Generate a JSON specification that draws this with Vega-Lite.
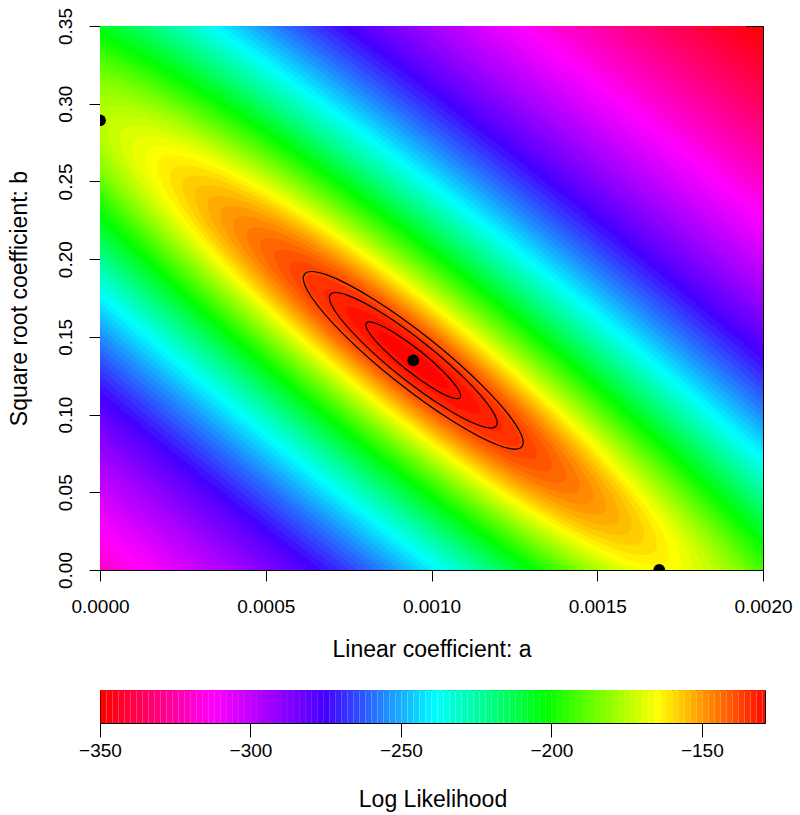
{
"$schema":"https://vega.github.io/schema/vega-lite/v6.json",
"padding":{"left":7,"top":7,"right":5,"bottom":5},
"background":"white",
"bounds":"flush",
"spacing":120,
"config":{
"font":"Liberation Sans",
"view":{"stroke":"#000000","strokeWidth":1},
"style":{"guide-label":{"font":"Liberation Sans","fontSize":19,"fill":"#000000"},"guide-title":{"font":"Liberation Sans","fontSize":23,"fontWeight":"normal","fill":"#000000"}},
"axis":{"labelFont":"Liberation Sans","titleFont":"Liberation Sans","labelFontSize":19,"titleFontSize":23,"titleFontWeight":"normal","labelColor":"#000000","titleColor":"#000000","tickColor":"#000000","grid":false,"domain":false,"tickSize":11,"tickWidth":1,"labelFlush":false,"labelOverlap":false}
},
"datasets":{
"fill":[
{"k":"00","i":0,"ll":-346.25,"a":0.007535,"b":-0.9752},{"k":"00","i":1,"ll":-346.25,"a":0.00709,"b":-0.7081},{"k":"00","i":2,"ll":-346.25,"a":0.004998,"b":-0.2152},{"k":"00","i":3,"ll":-346.25,"a":0.001821,"b":0.3714},{"k":"00","i":4,"ll":-346.25,"a":-0.001592,"b":0.8948},{"k":"00","i":5,"ll":-346.25,"a":-0.004326,"b":1.2143},{"k":"00","i":6,"ll":-346.25,"a":-0.005645,"b":1.245},{"k":"00","i":7,"ll":-346.25,"a":-0.0052,"b":0.9839},{"k":"00","i":8,"ll":-346.25,"a":-0.003108,"b":0.485},{"k":"00","i":9,"ll":-346.25,"a":0.000069,"b":-0.1016},{"k":"00","i":10,"ll":-346.25,"a":0.003482,"b":-0.625},{"k":"00","i":11,"ll":-346.25,"a":0.006216,"b":-0.9445},
{"k":"01","i":0,"ll":-343.75,"a":0.007371,"b":-0.9475},{"k":"01","i":1,"ll":-343.75,"a":0.006936,"b":-0.687},{"k":"01","i":2,"ll":-343.75,"a":0.004897,"b":-0.2065},{"k":"01","i":3,"ll":-343.75,"a":0.001799,"b":0.3655},{"k":"01","i":4,"ll":-343.75,"a":-0.001529,"b":0.8758},{"k":"01","i":5,"ll":-343.75,"a":-0.004195,"b":1.1873},{"k":"01","i":6,"ll":-343.75,"a":-0.005481,"b":1.2168},{"k":"01","i":7,"ll":-343.75,"a":-0.005046,"b":0.9568},{"k":"01","i":8,"ll":-343.75,"a":-0.003007,"b":0.4762},{"k":"01","i":9,"ll":-343.75,"a":0.000091,"b":-0.0957},{"k":"01","i":10,"ll":-343.75,"a":0.003399,"b":-0.606},{"k":"01","i":11,"ll":-343.75,"a":0.006085,"b":-0.9174},
{"k":"02","i":0,"ll":-341.25,"a":0.00721,"b":-0.9204},{"k":"02","i":1,"ll":-341.25,"a":0.006786,"b":-0.6664},{"k":"02","i":2,"ll":-341.25,"a":0.004798,"b":-0.1979},{"k":"02","i":3,"ll":-341.25,"a":0.001778,"b":0.3597},{"k":"02","i":4,"ll":-341.25,"a":-0.001467,"b":0.8573},{"k":"02","i":5,"ll":-341.25,"a":-0.004066,"b":1.1609},{"k":"02","i":6,"ll":-341.25,"a":-0.00532,"b":1.1902},{"k":"02","i":7,"ll":-341.25,"a":-0.004896,"b":0.9362},{"k":"02","i":8,"ll":-341.25,"a":-0.002908,"b":0.4677},{"k":"02","i":9,"ll":-341.25,"a":0.000113,"b":-0.0899},{"k":"02","i":10,"ll":-341.25,"a":0.003357,"b":-0.5875},{"k":"02","i":11,"ll":-341.25,"a":0.005956,"b":-0.8911},
{"k":"03","i":0,"ll":-338.75,"a":0.007053,"b":-0.8939},{"k":"03","i":1,"ll":-338.75,"a":0.00664,"b":-0.6463},{"k":"03","i":2,"ll":-338.75,"a":0.004701,"b":-0.1896},{"k":"03","i":3,"ll":-338.75,"a":0.001757,"b":0.3541},{"k":"03","i":4,"ll":-338.75,"a":-0.001406,"b":0.8392},{"k":"03","i":5,"ll":-338.75,"a":-0.00394,"b":1.1352},{"k":"03","i":6,"ll":-338.75,"a":-0.005163,"b":1.1637},{"k":"03","i":7,"ll":-338.75,"a":-0.00475,"b":0.9161},{"k":"03","i":8,"ll":-338.75,"a":-0.002811,"b":0.4594},{"k":"03","i":9,"ll":-338.75,"a":0.000133,"b":-0.0843},{"k":"03","i":10,"ll":-338.75,"a":0.003296,"b":-0.5694},{"k":"03","i":11,"ll":-338.75,"a":0.00583,"b":-0.8654},
{"k":"04","i":0,"ll":-336.25,"a":0.0069,"b":-0.8681},{"k":"04","i":1,"ll":-336.25,"a":0.006497,"b":-0.6268},{"k":"04","i":2,"ll":-336.25,"a":0.004607,"b":-0.1814},{"k":"04","i":3,"ll":-336.25,"a":0.001736,"b":0.3486},{"k":"04","i":4,"ll":-336.25,"a":-0.001347,"b":0.8215},{"k":"04","i":5,"ll":-336.25,"a":-0.003818,"b":1.1102},{"k":"04","i":6,"ll":-336.25,"a":-0.00501,"b":1.1379},{"k":"04","i":7,"ll":-336.25,"a":-0.004607,"b":0.8966},{"k":"04","i":8,"ll":-336.25,"a":-0.002717,"b":0.4512},{"k":"04","i":9,"ll":-336.25,"a":0.000154,"b":-0.0788},{"k":"04","i":10,"ll":-336.25,"a":0.003237,"b":-0.5517},{"k":"04","i":11,"ll":-336.25,"a":0.005708,"b":-0.8404},
{"k":"05","i":0,"ll":-333.75,"a":0.00675,"b":-0.843},{"k":"05","i":1,"ll":-333.75,"a":0.006358,"b":-0.6077},{"k":"05","i":2,"ll":-333.75,"a":0.004515,"b":-0.1735},{"k":"05","i":3,"ll":-333.75,"a":0.001716,"b":0.3432},{"k":"05","i":4,"ll":-333.75,"a":-0.00129,"b":0.8043},{"k":"05","i":5,"ll":-333.75,"a":-0.003699,"b":1.0857},{"k":"05","i":6,"ll":-333.75,"a":-0.00486,"b":1.1128},{"k":"05","i":7,"ll":-333.75,"a":-0.004468,"b":0.8775},{"k":"05","i":8,"ll":-333.75,"a":-0.002625,"b":0.4433},{"k":"05","i":9,"ll":-333.75,"a":0.000174,"b":-0.0734},{"k":"05","i":10,"ll":-333.75,"a":0.00318,"b":-0.5345},{"k":"05","i":11,"ll":-333.75,"a":0.005589,"b":-0.8159},
{"k":"06","i":0,"ll":-331.25,"a":0.006605,"b":-0.8184},{"k":"06","i":1,"ll":-331.25,"a":0.006222,"b":-0.589},{"k":"06","i":2,"ll":-331.25,"a":0.004426,"b":-0.1658},{"k":"06","i":3,"ll":-331.25,"a":0.001697,"b":0.338},{"k":"06","i":4,"ll":-331.25,"a":-0.001234,"b":0.7875},{"k":"06","i":5,"ll":-331.25,"a":-0.003582,"b":1.0618},{"k":"06","i":6,"ll":-331.25,"a":-0.004715,"b":1.0882},{"k":"06","i":7,"ll":-331.25,"a":-0.004332,"b":0.8588},{"k":"06","i":8,"ll":-331.25,"a":-0.002536,"b":0.4356},{"k":"06","i":9,"ll":-331.25,"a":0.000193,"b":-0.0682},{"k":"06","i":10,"ll":-331.25,"a":0.003124,"b":-0.5177},{"k":"06","i":11,"ll":-331.25,"a":0.005472,"b":-0.792},
{"k":"07","i":0,"ll":-328.75,"a":0.006462,"b":-0.7945},{"k":"07","i":1,"ll":-328.75,"a":0.00609,"b":-0.5708},{"k":"07","i":2,"ll":-328.75,"a":0.004338,"b":-0.1582},{"k":"07","i":3,"ll":-328.75,"a":0.001678,"b":0.3329},{"k":"07","i":4,"ll":-328.75,"a":-0.001179,"b":0.7711},{"k":"07","i":5,"ll":-328.75,"a":-0.003468,"b":1.0386},{"k":"07","i":6,"ll":-328.75,"a":-0.004572,"b":1.0643},{"k":"07","i":7,"ll":-328.75,"a":-0.0042,"b":0.8406},{"k":"07","i":8,"ll":-328.75,"a":-0.002448,"b":0.428},{"k":"07","i":9,"ll":-328.75,"a":0.000212,"b":-0.0631},{"k":"07","i":10,"ll":-328.75,"a":0.003069,"b":-0.5013},{"k":"07","i":11,"ll":-328.75,"a":0.005358,"b":-0.7688},
{"k":"08","i":0,"ll":-326.25,"a":0.006324,"b":-0.7711},{"k":"08","i":1,"ll":-326.25,"a":0.00596,"b":-0.5531},{"k":"08","i":2,"ll":-326.25,"a":0.004253,"b":-0.1508},{"k":"08","i":3,"ll":-326.25,"a":0.00166,"b":0.3279},{"k":"08","i":4,"ll":-326.25,"a":-0.001126,"b":0.7551},{"k":"08","i":5,"ll":-326.25,"a":-0.003357,"b":1.0158},{"k":"08","i":6,"ll":-326.25,"a":-0.004434,"b":1.0409},{"k":"08","i":7,"ll":-326.25,"a":-0.00407,"b":0.8229},{"k":"08","i":8,"ll":-326.25,"a":-0.002363,"b":0.4206},{"k":"08","i":9,"ll":-326.25,"a":0.00023,"b":-0.0581},{"k":"08","i":10,"ll":-326.25,"a":0.003016,"b":-0.4853},{"k":"08","i":11,"ll":-326.25,"a":0.005247,"b":-0.746},
{"k":"09","i":0,"ll":-323.75,"a":0.006188,"b":-0.7483},{"k":"09","i":1,"ll":-323.75,"a":0.005834,"b":-0.5358},{"k":"09","i":2,"ll":-323.75,"a":0.00417,"b":-0.1436},{"k":"09","i":3,"ll":-323.75,"a":0.001642,"b":0.3231},{"k":"09","i":4,"ll":-323.75,"a":-0.001074,"b":0.7395},{"k":"09","i":5,"ll":-323.75,"a":-0.003249,"b":0.9937},{"k":"09","i":6,"ll":-323.75,"a":-0.004298,"b":1.0181},{"k":"09","i":7,"ll":-323.75,"a":-0.003944,"b":0.8056},{"k":"09","i":8,"ll":-323.75,"a":-0.00228,"b":0.4134},{"k":"09","i":9,"ll":-323.75,"a":0.000248,"b":-0.0533},{"k":"09","i":10,"ll":-323.75,"a":0.002964,"b":-0.4697},{"k":"09","i":11,"ll":-323.75,"a":0.005139,"b":-0.7239},
{"k":"10","i":0,"ll":-321.25,"a":0.006056,"b":-0.7261},{"k":"10","i":1,"ll":-321.25,"a":0.005711,"b":-0.5189},{"k":"10","i":2,"ll":-321.25,"a":0.004088,"b":-0.1366},{"k":"10","i":3,"ll":-321.25,"a":0.001624,"b":0.3183},{"k":"10","i":4,"ll":-321.25,"a":-0.001023,"b":0.7243},{"k":"10","i":5,"ll":-321.25,"a":-0.003143,"b":0.972},{"k":"10","i":6,"ll":-321.25,"a":-0.004166,"b":0.9959},{"k":"10","i":7,"ll":-321.25,"a":-0.003821,"b":0.7887},{"k":"10","i":8,"ll":-321.25,"a":-0.002198,"b":0.4064},{"k":"10","i":9,"ll":-321.25,"a":0.000266,"b":-0.0485},{"k":"10","i":10,"ll":-321.25,"a":0.002913,"b":-0.4545},{"k":"10","i":11,"ll":-321.25,"a":0.005033,"b":-0.7022},
{"k":"11","i":0,"ll":-318.75,"a":0.005927,"b":-0.7043},{"k":"11","i":1,"ll":-318.75,"a":0.005591,"b":-0.5024},{"k":"11","i":2,"ll":-318.75,"a":0.004009,"b":-0.1298},{"k":"11","i":3,"ll":-318.75,"a":0.001607,"b":0.3137},{"k":"11","i":4,"ll":-318.75,"a":-0.000973,"b":0.7094},{"k":"11","i":5,"ll":-318.75,"a":-0.00304,"b":0.9509},{"k":"11","i":6,"ll":-318.75,"a":-0.004037,"b":0.9741},{"k":"11","i":7,"ll":-318.75,"a":-0.003701,"b":0.7722},{"k":"11","i":8,"ll":-318.75,"a":-0.002119,"b":0.3996},{"k":"11","i":9,"ll":-318.75,"a":0.000283,"b":-0.0439},{"k":"11","i":10,"ll":-318.75,"a":0.002863,"b":-0.4396},{"k":"11","i":11,"ll":-318.75,"a":0.00493,"b":-0.6811},
{"k":"12","i":0,"ll":-316.25,"a":0.005801,"b":-0.6832},{"k":"12","i":1,"ll":-316.25,"a":0.005473,"b":-0.4863},{"k":"12","i":2,"ll":-316.25,"a":0.003932,"b":-0.1231},{"k":"12","i":3,"ll":-316.25,"a":0.00159,"b":0.3092},{"k":"12","i":4,"ll":-316.25,"a":-0.000925,"b":0.6949},{"k":"12","i":5,"ll":-316.25,"a":-0.00294,"b":0.9303},{"k":"12","i":6,"ll":-316.25,"a":-0.003911,"b":0.953},{"k":"12","i":7,"ll":-316.25,"a":-0.003583,"b":0.7561},{"k":"12","i":8,"ll":-316.25,"a":-0.002042,"b":0.3929},{"k":"12","i":9,"ll":-316.25,"a":0.0003,"b":-0.0394},{"k":"12","i":10,"ll":-316.25,"a":0.002815,"b":-0.4251},{"k":"12","i":11,"ll":-316.25,"a":0.00483,"b":-0.6605},
{"k":"13","i":0,"ll":-313.75,"a":0.005679,"b":-0.6625},{"k":"13","i":1,"ll":-313.75,"a":0.005359,"b":-0.4706},{"k":"13","i":2,"ll":-313.75,"a":0.003856,"b":-0.1166},{"k":"13","i":3,"ll":-313.75,"a":0.001574,"b":0.3048},{"k":"13","i":4,"ll":-313.75,"a":-0.000877,"b":0.6807},{"k":"13","i":5,"ll":-313.75,"a":-0.002841,"b":0.9102},{"k":"13","i":6,"ll":-313.75,"a":-0.003789,"b":0.9323},{"k":"13","i":7,"ll":-313.75,"a":-0.003469,"b":0.7404},{"k":"13","i":8,"ll":-313.75,"a":-0.001966,"b":0.3864},{"k":"13","i":9,"ll":-313.75,"a":0.000316,"b":-0.035},{"k":"13","i":10,"ll":-313.75,"a":0.002767,"b":-0.4109},{"k":"13","i":11,"ll":-313.75,"a":0.004731,"b":-0.6404},
{"k":"14","i":0,"ll":-311.25,"a":0.005559,"b":-0.6423},{"k":"14","i":1,"ll":-311.25,"a":0.005247,"b":-0.4553},{"k":"14","i":2,"ll":-311.25,"a":0.003783,"b":-0.1102},{"k":"14","i":3,"ll":-311.25,"a":0.001558,"b":0.3005},{"k":"14","i":4,"ll":-311.25,"a":-0.000831,"b":0.6669},{"k":"14","i":5,"ll":-311.25,"a":-0.002745,"b":0.8906},{"k":"14","i":6,"ll":-311.25,"a":-0.003669,"b":0.9121},{"k":"14","i":7,"ll":-311.25,"a":-0.003357,"b":0.7251},{"k":"14","i":8,"ll":-311.25,"a":-0.001893,"b":0.38},{"k":"14","i":9,"ll":-311.25,"a":0.000332,"b":-0.0307},{"k":"14","i":10,"ll":-311.25,"a":0.002721,"b":-0.3971},{"k":"14","i":11,"ll":-311.25,"a":0.004635,"b":-0.6208},
{"k":"15","i":0,"ll":-308.75,"a":0.005442,"b":-0.6226},{"k":"15","i":1,"ll":-308.75,"a":0.005138,"b":-0.4403},{"k":"15","i":2,"ll":-308.75,"a":0.003711,"b":-0.104},{"k":"15","i":3,"ll":-308.75,"a":0.001543,"b":0.2963},{"k":"15","i":4,"ll":-308.75,"a":-0.000786,"b":0.6534},{"k":"15","i":5,"ll":-308.75,"a":-0.002652,"b":0.8714},{"k":"15","i":6,"ll":-308.75,"a":-0.003552,"b":0.8924},{"k":"15","i":7,"ll":-308.75,"a":-0.003248,"b":0.7101},{"k":"15","i":8,"ll":-308.75,"a":-0.001821,"b":0.3738},{"k":"15","i":9,"ll":-308.75,"a":0.000347,"b":-0.0265},{"k":"15","i":10,"ll":-308.75,"a":0.002676,"b":-0.3836},{"k":"15","i":11,"ll":-308.75,"a":0.004542,"b":-0.6016},
{"k":"16","i":0,"ll":-306.25,"a":0.005328,"b":-0.6034},{"k":"16","i":1,"ll":-306.25,"a":0.005032,"b":-0.4257},{"k":"16","i":2,"ll":-306.25,"a":0.003641,"b":-0.0979},{"k":"16","i":3,"ll":-306.25,"a":0.001527,"b":0.2922},{"k":"16","i":4,"ll":-306.25,"a":-0.000742,"b":0.6403},{"k":"16","i":5,"ll":-306.25,"a":-0.002561,"b":0.8527},{"k":"16","i":6,"ll":-306.25,"a":-0.003438,"b":0.8732},{"k":"16","i":7,"ll":-306.25,"a":-0.003142,"b":0.6955},{"k":"16","i":8,"ll":-306.25,"a":-0.00175,"b":0.3677},{"k":"16","i":9,"ll":-306.25,"a":0.000363,"b":-0.0224},{"k":"16","i":10,"ll":-306.25,"a":0.002632,"b":-0.3705},{"k":"16","i":11,"ll":-306.25,"a":0.004451,"b":-0.5829},
{"k":"17","i":0,"ll":-303.75,"a":0.005217,"b":-0.5846},{"k":"17","i":1,"ll":-303.75,"a":0.004928,"b":-0.4115},{"k":"17","i":2,"ll":-303.75,"a":0.003572,"b":-0.092},{"k":"17","i":3,"ll":-303.75,"a":0.001513,"b":0.2882},{"k":"17","i":4,"ll":-303.75,"a":-0.000699,"b":0.6274},{"k":"17","i":5,"ll":-303.75,"a":-0.002472,"b":0.8345},{"k":"17","i":6,"ll":-303.75,"a":-0.003326,"b":0.8544},{"k":"17","i":7,"ll":-303.75,"a":-0.003038,"b":0.6813},{"k":"17","i":8,"ll":-303.75,"a":-0.001682,"b":0.3618},{"k":"17","i":9,"ll":-303.75,"a":0.000377,"b":-0.0184},{"k":"17","i":10,"ll":-303.75,"a":0.00259,"b":-0.3576},{"k":"17","i":11,"ll":-303.75,"a":0.004362,"b":-0.5647},
{"k":"18","i":0,"ll":-301.25,"a":0.005108,"b":-0.5663},{"k":"18","i":1,"ll":-301.25,"a":0.004826,"b":-0.3976},{"k":"18","i":2,"ll":-301.25,"a":0.003505,"b":-0.0862},{"k":"18","i":3,"ll":-301.25,"a":0.001498,"b":0.2843},{"k":"18","i":4,"ll":-301.25,"a":-0.000658,"b":0.6149},{"k":"18","i":5,"ll":-301.25,"a":-0.002385,"b":0.8167},{"k":"18","i":6,"ll":-301.25,"a":-0.003218,"b":0.8361},{"k":"18","i":7,"ll":-301.25,"a":-0.002936,"b":0.6674},{"k":"18","i":8,"ll":-301.25,"a":-0.001615,"b":0.356},{"k":"18","i":9,"ll":-301.25,"a":0.000392,"b":-0.0145},{"k":"18","i":10,"ll":-301.25,"a":0.002548,"b":-0.3451},{"k":"18","i":11,"ll":-301.25,"a":0.004275,"b":-0.5469},
{"k":"19","i":0,"ll":-298.75,"a":0.005002,"b":-0.5484},{"k":"19","i":1,"ll":-298.75,"a":0.004728,"b":-0.384},{"k":"19","i":2,"ll":-298.75,"a":0.00344,"b":-0.0806},{"k":"19","i":3,"ll":-298.75,"a":0.001484,"b":0.2806},{"k":"19","i":4,"ll":-298.75,"a":-0.000617,"b":0.6027},{"k":"19","i":5,"ll":-298.75,"a":-0.0023,"b":0.7993},{"k":"19","i":6,"ll":-298.75,"a":-0.003112,"b":0.8182},{"k":"19","i":7,"ll":-298.75,"a":-0.002838,"b":0.6538},{"k":"19","i":8,"ll":-298.75,"a":-0.00155,"b":0.3504},{"k":"19","i":9,"ll":-298.75,"a":0.000406,"b":-0.0107},{"k":"19","i":10,"ll":-298.75,"a":0.002507,"b":-0.3329},{"k":"19","i":11,"ll":-298.75,"a":0.00419,"b":-0.5295},
{"k":"20","i":0,"ll":-296.25,"a":0.004898,"b":-0.531},{"k":"20","i":1,"ll":-296.25,"a":0.004631,"b":-0.3707},{"k":"20","i":2,"ll":-296.25,"a":0.003376,"b":-0.0751},{"k":"20","i":3,"ll":-296.25,"a":0.00147,"b":0.2768},{"k":"20","i":4,"ll":-296.25,"a":-0.000577,"b":0.5907},{"k":"20","i":5,"ll":-296.25,"a":-0.002217,"b":0.7823},{"k":"20","i":6,"ll":-296.25,"a":-0.003008,"b":0.8008},{"k":"20","i":7,"ll":-296.25,"a":-0.002741,"b":0.6405},{"k":"20","i":8,"ll":-296.25,"a":-0.001486,"b":0.3449},{"k":"20","i":9,"ll":-296.25,"a":0.00042,"b":-0.0069},{"k":"20","i":10,"ll":-296.25,"a":0.002467,"b":-0.3209},{"k":"20","i":11,"ll":-296.25,"a":0.004107,"b":-0.5125},
{"k":"21","i":0,"ll":-293.75,"a":0.004797,"b":-0.5139},{"k":"21","i":1,"ll":-293.75,"a":0.004537,"b":-0.3578},{"k":"21","i":2,"ll":-293.75,"a":0.003314,"b":-0.0697},{"k":"21","i":3,"ll":-293.75,"a":0.001457,"b":0.2731},{"k":"21","i":4,"ll":-293.75,"a":-0.000538,"b":0.5791},{"k":"21","i":5,"ll":-293.75,"a":-0.002136,"b":0.7658},{"k":"21","i":6,"ll":-293.75,"a":-0.002907,"b":0.7837},{"k":"21","i":7,"ll":-293.75,"a":-0.002647,"b":0.6276},{"k":"21","i":8,"ll":-293.75,"a":-0.001424,"b":0.3395},{"k":"21","i":9,"ll":-293.75,"a":0.000433,"b":-0.0033},{"k":"21","i":10,"ll":-293.75,"a":0.002428,"b":-0.3093},{"k":"21","i":11,"ll":-293.75,"a":0.004026,"b":-0.496},
{"k":"22","i":0,"ll":-291.25,"a":0.004698,"b":-0.4973},{"k":"22","i":1,"ll":-291.25,"a":0.004445,"b":-0.3452},{"k":"22","i":2,"ll":-291.25,"a":0.003253,"b":-0.0645},{"k":"22","i":3,"ll":-291.25,"a":0.001444,"b":0.2698},{"k":"22","i":4,"ll":-291.25,"a":-0.0005,"b":0.5677},{"k":"22","i":5,"ll":-291.25,"a":-0.002057,"b":0.7496},{"k":"22","i":6,"ll":-291.25,"a":-0.002808,"b":0.7671},{"k":"22","i":7,"ll":-291.25,"a":-0.002555,"b":0.615},{"k":"22","i":8,"ll":-291.25,"a":-0.001363,"b":0.3343},{"k":"22","i":9,"ll":-291.25,"a":0.000446,"b":0.0002},{"k":"22","i":10,"ll":-291.25,"a":0.00239,"b":-0.2979},{"k":"22","i":11,"ll":-291.25,"a":0.003947,"b":-0.4798},
{"k":"23","i":0,"ll":-288.75,"a":0.004602,"b":-0.4811},{"k":"23","i":1,"ll":-288.75,"a":0.004355,"b":-0.3328},{"k":"23","i":2,"ll":-288.75,"a":0.003194,"b":-0.0594},{"k":"23","i":3,"ll":-288.75,"a":0.001431,"b":0.2661},{"k":"23","i":4,"ll":-288.75,"a":-0.000463,"b":0.5566},{"k":"23","i":5,"ll":-288.75,"a":-0.00198,"b":0.7338},{"k":"23","i":6,"ll":-288.75,"a":-0.002712,"b":0.7509},{"k":"23","i":7,"ll":-288.75,"a":-0.002465,"b":0.6026},{"k":"23","i":8,"ll":-288.75,"a":-0.001304,"b":0.3292},{"k":"23","i":9,"ll":-288.75,"a":0.000459,"b":0.0037},{"k":"23","i":10,"ll":-288.75,"a":0.002353,"b":-0.2868},{"k":"23","i":11,"ll":-288.75,"a":0.00387,"b":-0.464},
{"k":"24","i":0,"ll":-286.25,"a":0.004508,"b":-0.4652},{"k":"24","i":1,"ll":-286.25,"a":0.004267,"b":-0.3208},{"k":"24","i":2,"ll":-286.25,"a":0.003136,"b":-0.0544},{"k":"24","i":3,"ll":-286.25,"a":0.001418,"b":0.2627},{"k":"24","i":4,"ll":-286.25,"a":-0.000427,"b":0.5457},{"k":"24","i":5,"ll":-286.25,"a":-0.001905,"b":0.7184},{"k":"24","i":6,"ll":-286.25,"a":-0.002618,"b":0.735},{"k":"24","i":7,"ll":-286.25,"a":-0.002377,"b":0.5906},{"k":"24","i":8,"ll":-286.25,"a":-0.001246,"b":0.3242},{"k":"24","i":9,"ll":-286.25,"a":0.000472,"b":0.0071},{"k":"24","i":10,"ll":-286.25,"a":0.002317,"b":-0.2759},{"k":"24","i":11,"ll":-286.25,"a":0.003795,"b":-0.4486},
{"k":"25","i":0,"ll":-283.75,"a":0.004416,"b":-0.4497},{"k":"25","i":1,"ll":-283.75,"a":0.004181,"b":-0.309},{"k":"25","i":2,"ll":-283.75,"a":0.00308,"b":-0.0495},{"k":"25","i":3,"ll":-283.75,"a":0.001406,"b":0.2595},{"k":"25","i":4,"ll":-283.75,"a":-0.000391,"b":0.5351},{"k":"25","i":5,"ll":-283.75,"a":-0.001831,"b":0.7034},{"k":"25","i":6,"ll":-283.75,"a":-0.002526,"b":0.7195},{"k":"25","i":7,"ll":-283.75,"a":-0.002291,"b":0.5788},{"k":"25","i":8,"ll":-283.75,"a":-0.00119,"b":0.3193},{"k":"25","i":9,"ll":-283.75,"a":0.000484,"b":0.0104},{"k":"25","i":10,"ll":-283.75,"a":0.002281,"b":-0.2653},{"k":"25","i":11,"ll":-283.75,"a":0.003721,"b":-0.4336},
{"k":"26","i":0,"ll":-281.25,"a":0.004326,"b":-0.4346},{"k":"26","i":1,"ll":-281.25,"a":0.004098,"b":-0.2976},{"k":"26","i":2,"ll":-281.25,"a":0.003024,"b":-0.0447},{"k":"26","i":3,"ll":-281.25,"a":0.001394,"b":0.2562},{"k":"26","i":4,"ll":-281.25,"a":-0.000357,"b":0.5248},{"k":"26","i":5,"ll":-281.25,"a":-0.001759,"b":0.6887},{"k":"26","i":6,"ll":-281.25,"a":-0.002436,"b":0.7044},{"k":"26","i":7,"ll":-281.25,"a":-0.002208,"b":0.5674},{"k":"26","i":8,"ll":-281.25,"a":-0.001134,"b":0.3145},{"k":"26","i":9,"ll":-281.25,"a":0.000496,"b":0.0136},{"k":"26","i":10,"ll":-281.25,"a":0.002247,"b":-0.255},{"k":"26","i":11,"ll":-281.25,"a":0.003649,"b":-0.4189},
{"k":"27","i":0,"ll":-278.75,"a":0.004239,"b":-0.4199},{"k":"27","i":1,"ll":-278.75,"a":0.004016,"b":-0.2864},{"k":"27","i":2,"ll":-278.75,"a":0.002971,"b":-0.0401},{"k":"27","i":3,"ll":-278.75,"a":0.001383,"b":0.2531},{"k":"27","i":4,"ll":-278.75,"a":-0.000323,"b":0.5147},{"k":"27","i":5,"ll":-278.75,"a":-0.001689,"b":0.6743},{"k":"27","i":6,"ll":-278.75,"a":-0.002349,"b":0.6897},{"k":"27","i":7,"ll":-278.75,"a":-0.002126,"b":0.5562},{"k":"27","i":8,"ll":-278.75,"a":-0.001081,"b":0.3099},{"k":"27","i":9,"ll":-278.75,"a":0.000507,"b":0.0167},{"k":"27","i":10,"ll":-278.75,"a":0.002213,"b":-0.2449},{"k":"27","i":11,"ll":-278.75,"a":0.003579,"b":-0.4045},
{"k":"28","i":0,"ll":-276.25,"a":0.004153,"b":-0.4055},{"k":"28","i":1,"ll":-276.25,"a":0.003936,"b":-0.2754},{"k":"28","i":2,"ll":-276.25,"a":0.002918,"b":-0.0355},{"k":"28","i":3,"ll":-276.25,"a":0.001371,"b":0.25},{"k":"28","i":4,"ll":-276.25,"a":-0.00029,"b":0.5048},{"k":"28","i":5,"ll":-276.25,"a":-0.001621,"b":0.6603},{"k":"28","i":6,"ll":-276.25,"a":-0.002263,"b":0.6753},{"k":"28","i":7,"ll":-276.25,"a":-0.002046,"b":0.5452},{"k":"28","i":8,"ll":-276.25,"a":-0.001028,"b":0.3053},{"k":"28","i":9,"ll":-276.25,"a":0.000519,"b":0.0198},{"k":"28","i":10,"ll":-276.25,"a":0.00218,"b":-0.235},{"k":"28","i":11,"ll":-276.25,"a":0.003511,"b":-0.3905},
{"k":"29","i":0,"ll":-273.75,"a":0.004069,"b":-0.3914},{"k":"29","i":1,"ll":-273.75,"a":0.003858,"b":-0.2647},{"k":"29","i":2,"ll":-273.75,"a":0.002867,"b":-0.0311},{"k":"29","i":3,"ll":-273.75,"a":0.00136,"b":0.247},{"k":"29","i":4,"ll":-273.75,"a":-0.000258,"b":0.4952},{"k":"29","i":5,"ll":-273.75,"a":-0.001554,"b":0.6466},{"k":"29","i":6,"ll":-273.75,"a":-0.002179,"b":0.6612},{"k":"29","i":7,"ll":-273.75,"a":-0.001968,"b":0.5345},{"k":"29","i":8,"ll":-273.75,"a":-0.000977,"b":0.3009},{"k":"29","i":9,"ll":-273.75,"a":0.00053,"b":0.0228},{"k":"29","i":10,"ll":-273.75,"a":0.002148,"b":-0.2254},{"k":"29","i":11,"ll":-273.75,"a":0.003444,"b":-0.3768},
{"k":"30","i":0,"ll":-271.25,"a":0.003988,"b":-0.3777},{"k":"30","i":1,"ll":-271.25,"a":0.003782,"b":-0.2543},{"k":"30","i":2,"ll":-271.25,"a":0.002816,"b":-0.0267},{"k":"30","i":3,"ll":-271.25,"a":0.001349,"b":0.2441},{"k":"30","i":4,"ll":-271.25,"a":-0.000226,"b":0.4858},{"k":"30","i":5,"ll":-271.25,"a":-0.001489,"b":0.6333},{"k":"30","i":6,"ll":-271.25,"a":-0.002098,"b":0.6475},{"k":"30","i":7,"ll":-271.25,"a":-0.001892,"b":0.5241},{"k":"30","i":8,"ll":-271.25,"a":-0.000926,"b":0.2965},{"k":"30","i":9,"ll":-271.25,"a":0.000541,"b":0.0257},{"k":"30","i":10,"ll":-271.25,"a":0.002116,"b":-0.216},{"k":"30","i":11,"ll":-271.25,"a":0.003379,"b":-0.3635},
{"k":"31","i":0,"ll":-268.75,"a":0.003908,"b":-0.3642},{"k":"31","i":1,"ll":-268.75,"a":0.003708,"b":-0.2441},{"k":"31","i":2,"ll":-268.75,"a":0.002767,"b":-0.0225},{"k":"31","i":3,"ll":-268.75,"a":0.001339,"b":0.2412},{"k":"31","i":4,"ll":-268.75,"a":-0.000196,"b":0.4766},{"k":"31","i":5,"ll":-268.75,"a":-0.001425,"b":0.6202},{"k":"31","i":6,"ll":-268.75,"a":-0.002018,"b":0.634},{"k":"31","i":7,"ll":-268.75,"a":-0.001818,"b":0.5139},{"k":"31","i":8,"ll":-268.75,"a":-0.000877,"b":0.2923},{"k":"31","i":9,"ll":-268.75,"a":0.000551,"b":0.0286},{"k":"31","i":10,"ll":-268.75,"a":0.002086,"b":-0.2068},{"k":"31","i":11,"ll":-268.75,"a":0.003315,"b":-0.3504},
{"k":"32","i":0,"ll":-266.25,"a":0.00383,"b":-0.3511},{"k":"32","i":1,"ll":-266.25,"a":0.003635,"b":-0.2342},{"k":"32","i":2,"ll":-266.25,"a":0.002719,"b":-0.0184},{"k":"32","i":3,"ll":-266.25,"a":0.001328,"b":0.2384},{"k":"32","i":4,"ll":-266.25,"a":-0.000166,"b":0.4676},{"k":"32","i":5,"ll":-266.25,"a":-0.001363,"b":0.6074},{"k":"32","i":6,"ll":-266.25,"a":-0.00194,"b":0.6209},{"k":"32","i":7,"ll":-266.25,"a":-0.001745,"b":0.504},{"k":"32","i":8,"ll":-266.25,"a":-0.000829,"b":0.2882},{"k":"32","i":9,"ll":-266.25,"a":0.000562,"b":0.0314},{"k":"32","i":10,"ll":-266.25,"a":0.002056,"b":-0.1978},{"k":"32","i":11,"ll":-266.25,"a":0.003253,"b":-0.3376},
{"k":"33","i":0,"ll":-263.75,"a":0.003754,"b":-0.3383},{"k":"33","i":1,"ll":-263.75,"a":0.003564,"b":-0.2244},{"k":"33","i":2,"ll":-263.75,"a":0.002673,"b":-0.0143},{"k":"33","i":3,"ll":-263.75,"a":0.001318,"b":0.2357},{"k":"33","i":4,"ll":-263.75,"a":-0.000137,"b":0.4588},{"k":"33","i":5,"ll":-263.75,"a":-0.001302,"b":0.595},{"k":"33","i":6,"ll":-263.75,"a":-0.001864,"b":0.6081},{"k":"33","i":7,"ll":-263.75,"a":-0.001674,"b":0.4942},{"k":"33","i":8,"ll":-263.75,"a":-0.000783,"b":0.2841},{"k":"33","i":9,"ll":-263.75,"a":0.000572,"b":0.0341},{"k":"33","i":10,"ll":-263.75,"a":0.002027,"b":-0.189},{"k":"33","i":11,"ll":-263.75,"a":0.003192,"b":-0.3252},
{"k":"34","i":0,"ll":-261.25,"a":0.00368,"b":-0.3258},{"k":"34","i":1,"ll":-261.25,"a":0.003495,"b":-0.2149},{"k":"34","i":2,"ll":-261.25,"a":0.002627,"b":-0.0104},{"k":"34","i":3,"ll":-261.25,"a":0.001308,"b":0.233},{"k":"34","i":4,"ll":-261.25,"a":-0.000108,"b":0.4503},{"k":"34","i":5,"ll":-261.25,"a":-0.001243,"b":0.5828},{"k":"34","i":6,"ll":-261.25,"a":-0.00179,"b":0.5956},{"k":"34","i":7,"ll":-261.25,"a":-0.001605,"b":0.4847},{"k":"34","i":8,"ll":-261.25,"a":-0.000737,"b":0.2802},{"k":"34","i":9,"ll":-261.25,"a":0.000582,"b":0.0368},{"k":"34","i":10,"ll":-261.25,"a":0.001998,"b":-0.1805},{"k":"34","i":11,"ll":-261.25,"a":0.003133,"b":-0.313},
{"k":"35","i":0,"ll":-258.75,"a":0.003607,"b":-0.3136},{"k":"35","i":1,"ll":-258.75,"a":0.003427,"b":-0.2056},{"k":"35","i":2,"ll":-258.75,"a":0.002582,"b":-0.0065},{"k":"35","i":3,"ll":-258.75,"a":0.001299,"b":0.2304},{"k":"35","i":4,"ll":-258.75,"a":-0.00008,"b":0.4419},{"k":"35","i":5,"ll":-258.75,"a":-0.001184,"b":0.5709},{"k":"35","i":6,"ll":-258.75,"a":-0.001717,"b":0.5833},{"k":"35","i":7,"ll":-258.75,"a":-0.001537,"b":0.4754},{"k":"35","i":8,"ll":-258.75,"a":-0.000692,"b":0.2763},{"k":"35","i":9,"ll":-258.75,"a":0.000591,"b":0.0394},{"k":"35","i":10,"ll":-258.75,"a":0.00197,"b":-0.1721},{"k":"35","i":11,"ll":-258.75,"a":0.003074,"b":-0.3011},
{"k":"36","i":0,"ll":-256.25,"a":0.003536,"b":-0.3016},{"k":"36","i":1,"ll":-256.25,"a":0.003361,"b":-0.1966},{"k":"36","i":2,"ll":-256.25,"a":0.002539,"b":-0.0028},{"k":"36","i":3,"ll":-256.25,"a":0.001289,"b":0.2279},{"k":"36","i":4,"ll":-256.25,"a":-0.000053,"b":0.4337},{"k":"36","i":5,"ll":-256.25,"a":-0.001128,"b":0.5593},{"k":"36","i":6,"ll":-256.25,"a":-0.001646,"b":0.5714},{"k":"36","i":7,"ll":-256.25,"a":-0.001471,"b":0.4664},{"k":"36","i":8,"ll":-256.25,"a":-0.000649,"b":0.2726},{"k":"36","i":9,"ll":-256.25,"a":0.000601,"b":0.0419},{"k":"36","i":10,"ll":-256.25,"a":0.001943,"b":-0.1639},{"k":"36","i":11,"ll":-256.25,"a":0.003018,"b":-0.2895},
{"k":"37","i":0,"ll":-253.75,"a":0.003467,"b":-0.2899},{"k":"37","i":1,"ll":-253.75,"a":0.003297,"b":-0.1877},{"k":"37","i":2,"ll":-253.75,"a":0.002496,"b":0.0009},{"k":"37","i":3,"ll":-253.75,"a":0.00128,"b":0.2254},{"k":"37","i":4,"ll":-253.75,"a":-0.000026,"b":0.4257},{"k":"37","i":5,"ll":-253.75,"a":-0.001072,"b":0.5479},{"k":"37","i":6,"ll":-253.75,"a":-0.001577,"b":0.5597},{"k":"37","i":7,"ll":-253.75,"a":-0.001407,"b":0.4575},{"k":"37","i":8,"ll":-253.75,"a":-0.000606,"b":0.2689},{"k":"37","i":9,"ll":-253.75,"a":0.00061,"b":0.0444},{"k":"37","i":10,"ll":-253.75,"a":0.001916,"b":-0.1559},{"k":"37","i":11,"ll":-253.75,"a":0.002962,"b":-0.2781},
{"k":"38","i":0,"ll":-251.25,"a":0.003399,"b":-0.2785},{"k":"38","i":1,"ll":-251.25,"a":0.003233,"b":-0.179},{"k":"38","i":2,"ll":-251.25,"a":0.002454,"b":0.0045},{"k":"38","i":3,"ll":-251.25,"a":0.001271,"b":0.223},{"k":"38","i":4,"ll":-251.25,"a":0,"b":0.4179},{"k":"38","i":5,"ll":-251.25,"a":-0.001018,"b":0.5368},{"k":"38","i":6,"ll":-251.25,"a":-0.001509,"b":0.5483},{"k":"38","i":7,"ll":-251.25,"a":-0.001343,"b":0.449},{"k":"38","i":8,"ll":-251.25,"a":-0.000564,"b":0.2653},{"k":"38","i":9,"ll":-251.25,"a":0.000619,"b":0.0468},{"k":"38","i":10,"ll":-251.25,"a":0.00189,"b":-0.1481},{"k":"38","i":11,"ll":-251.25,"a":0.002908,"b":-0.267},
{"k":"39","i":0,"ll":-248.75,"a":0.003333,"b":-0.2673},{"k":"39","i":1,"ll":-248.75,"a":0.003172,"b":-0.1705},{"k":"39","i":2,"ll":-248.75,"a":0.002414,"b":0.0081},{"k":"39","i":3,"ll":-248.75,"a":0.001262,"b":0.2206},{"k":"39","i":4,"ll":-248.75,"a":0.000026,"b":0.4102},{"k":"39","i":5,"ll":-248.75,"a":-0.000965,"b":0.526},{"k":"39","i":6,"ll":-248.75,"a":-0.001443,"b":0.5371},{"k":"39","i":7,"ll":-248.75,"a":-0.001282,"b":0.4403},{"k":"39","i":8,"ll":-248.75,"a":-0.000524,"b":0.2618},{"k":"39","i":9,"ll":-248.75,"a":0.000628,"b":0.0492},{"k":"39","i":10,"ll":-248.75,"a":0.001864,"b":-0.1404},{"k":"39","i":11,"ll":-248.75,"a":0.002855,"b":-0.2562},
{"k":"40","i":0,"ll":-246.25,"a":0.003268,"b":-0.2564},{"k":"40","i":1,"ll":-246.25,"a":0.003111,"b":-0.1622},{"k":"40","i":2,"ll":-246.25,"a":0.002374,"b":0.0115},{"k":"40","i":3,"ll":-246.25,"a":0.001254,"b":0.2183},{"k":"40","i":4,"ll":-246.25,"a":0.000051,"b":0.4028},{"k":"40","i":5,"ll":-246.25,"a":-0.000913,"b":0.5154},{"k":"40","i":6,"ll":-246.25,"a":-0.001378,"b":0.5262},{"k":"40","i":7,"ll":-246.25,"a":-0.001221,"b":0.432},{"k":"40","i":8,"ll":-246.25,"a":-0.000484,"b":0.2583},{"k":"40","i":9,"ll":-246.25,"a":0.000636,"b":0.0515},{"k":"40","i":10,"ll":-246.25,"a":0.001839,"b":-0.133},{"k":"40","i":11,"ll":-246.25,"a":0.002803,"b":-0.2456},
{"k":"41","i":0,"ll":-243.75,"a":0.003205,"b":-0.2457},{"k":"41","i":1,"ll":-243.75,"a":0.003052,"b":-0.1541},{"k":"41","i":2,"ll":-243.75,"a":0.002335,"b":0.0149},{"k":"41","i":3,"ll":-243.75,"a":0.001245,"b":0.216},{"k":"41","i":4,"ll":-243.75,"a":0.000075,"b":0.3955},{"k":"41","i":5,"ll":-243.75,"a":-0.000862,"b":0.505},{"k":"41","i":6,"ll":-243.75,"a":-0.001315,"b":0.5155},{"k":"41","i":7,"ll":-243.75,"a":-0.001162,"b":0.4239},{"k":"41","i":8,"ll":-243.75,"a":-0.000445,"b":0.2549},{"k":"41","i":9,"ll":-243.75,"a":0.000645,"b":0.0538},{"k":"41","i":10,"ll":-243.75,"a":0.001815,"b":-0.1257},{"k":"41","i":11,"ll":-243.75,"a":0.002752,"b":-0.2352},
{"k":"42","i":0,"ll":-241.25,"a":0.003143,"b":-0.2353},{"k":"42","i":1,"ll":-241.25,"a":0.002994,"b":-0.1462},{"k":"42","i":2,"ll":-241.25,"a":0.002297,"b":0.0182},{"k":"42","i":3,"ll":-241.25,"a":0.001237,"b":0.2138},{"k":"42","i":4,"ll":-241.25,"a":0.000099,"b":0.3883},{"k":"42","i":5,"ll":-241.25,"a":-0.000813,"b":0.4949},{"k":"42","i":6,"ll":-241.25,"a":-0.001253,"b":0.5051},{"k":"42","i":7,"ll":-241.25,"a":-0.001104,"b":0.416},{"k":"42","i":8,"ll":-241.25,"a":-0.000407,"b":0.2517},{"k":"42","i":9,"ll":-241.25,"a":0.000653,"b":0.056},{"k":"42","i":10,"ll":-241.25,"a":0.001791,"b":-0.1185},{"k":"42","i":11,"ll":-241.25,"a":0.002703,"b":-0.2251},
{"k":"43","i":0,"ll":-238.75,"a":0.003082,"b":-0.2251},{"k":"43","i":1,"ll":-238.75,"a":0.002938,"b":-0.1385},{"k":"43","i":2,"ll":-238.75,"a":0.002259,"b":0.0214},{"k":"43","i":3,"ll":-238.75,"a":0.001229,"b":0.2116},{"k":"43","i":4,"ll":-238.75,"a":0.000122,"b":0.3813},{"k":"43","i":5,"ll":-238.75,"a":-0.000764,"b":0.4849},{"k":"43","i":6,"ll":-238.75,"a":-0.001192,"b":0.4949},{"k":"43","i":7,"ll":-238.75,"a":-0.001048,"b":0.4083},{"k":"43","i":8,"ll":-238.75,"a":-0.000369,"b":0.2484},{"k":"43","i":9,"ll":-238.75,"a":0.000661,"b":0.0582},{"k":"43","i":10,"ll":-238.75,"a":0.001768,"b":-0.1115},{"k":"43","i":11,"ll":-238.75,"a":0.002655,"b":-0.2151},
{"k":"44","i":0,"ll":-236.25,"a":0.003023,"b":-0.2151},{"k":"44","i":1,"ll":-236.25,"a":0.002883,"b":-0.1309},{"k":"44","i":2,"ll":-236.25,"a":0.002223,"b":0.0245},{"k":"44","i":3,"ll":-236.25,"a":0.001221,"b":0.2095},{"k":"44","i":4,"ll":-236.25,"a":0.000145,"b":0.3745},{"k":"44","i":5,"ll":-236.25,"a":-0.000717,"b":0.4752},{"k":"44","i":6,"ll":-236.25,"a":-0.001133,"b":0.4849},{"k":"44","i":7,"ll":-236.25,"a":-0.000993,"b":0.4007},{"k":"44","i":8,"ll":-236.25,"a":-0.000333,"b":0.2453},{"k":"44","i":9,"ll":-236.25,"a":0.000669,"b":0.0603},{"k":"44","i":10,"ll":-236.25,"a":0.001745,"b":-0.1047},{"k":"44","i":11,"ll":-236.25,"a":0.002607,"b":-0.2054},
{"k":"45","i":0,"ll":-233.75,"a":0.002965,"b":-0.2053},{"k":"45","i":1,"ll":-233.75,"a":0.002828,"b":-0.1235},{"k":"45","i":2,"ll":-233.75,"a":0.002187,"b":0.0276},{"k":"45","i":3,"ll":-233.75,"a":0.001213,"b":0.2074},{"k":"45","i":4,"ll":-233.75,"a":0.000167,"b":0.3678},{"k":"45","i":5,"ll":-233.75,"a":-0.000671,"b":0.4657},{"k":"45","i":6,"ll":-233.75,"a":-0.001075,"b":0.4751},{"k":"45","i":7,"ll":-233.75,"a":-0.000938,"b":0.3933},{"k":"45","i":8,"ll":-233.75,"a":-0.000297,"b":0.2422},{"k":"45","i":9,"ll":-233.75,"a":0.000677,"b":0.0624},{"k":"45","i":10,"ll":-233.75,"a":0.001723,"b":-0.098},{"k":"45","i":11,"ll":-233.75,"a":0.002561,"b":-0.1959},
{"k":"46","i":0,"ll":-231.25,"a":0.002908,"b":-0.1958},{"k":"46","i":1,"ll":-231.25,"a":0.002776,"b":-0.1162},{"k":"46","i":2,"ll":-231.25,"a":0.002152,"b":0.0306},{"k":"46","i":3,"ll":-231.25,"a":0.001206,"b":0.2054},{"k":"46","i":4,"ll":-231.25,"a":0.000189,"b":0.3613},{"k":"46","i":5,"ll":-231.25,"a":-0.000625,"b":0.4564},{"k":"46","i":6,"ll":-231.25,"a":-0.001018,"b":0.4656},{"k":"46","i":7,"ll":-231.25,"a":-0.000885,"b":0.386},{"k":"46","i":8,"ll":-231.25,"a":-0.000262,"b":0.2392},{"k":"46","i":9,"ll":-231.25,"a":0.000684,"b":0.0645},{"k":"46","i":10,"ll":-231.25,"a":0.001701,"b":-0.0915},{"k":"46","i":11,"ll":-231.25,"a":0.002515,"b":-0.1866},
{"k":"47","i":0,"ll":-228.75,"a":0.002853,"b":-0.1864},{"k":"47","i":1,"ll":-228.75,"a":0.002724,"b":-0.1091},{"k":"47","i":2,"ll":-228.75,"a":0.002118,"b":0.0336},{"k":"47","i":3,"ll":-228.75,"a":0.001199,"b":0.2034},{"k":"47","i":4,"ll":-228.75,"a":0.000211,"b":0.3549},{"k":"47","i":5,"ll":-228.75,"a":-0.000581,"b":0.4473},{"k":"47","i":6,"ll":-228.75,"a":-0.000963,"b":0.4562},{"k":"47","i":7,"ll":-228.75,"a":-0.000834,"b":0.3789},{"k":"47","i":8,"ll":-228.75,"a":-0.000228,"b":0.2362},{"k":"47","i":9,"ll":-228.75,"a":0.000692,"b":0.0664},{"k":"47","i":10,"ll":-228.75,"a":0.001679,"b":-0.0851},{"k":"47","i":11,"ll":-228.75,"a":0.002471,"b":-0.1775},
{"k":"48","i":0,"ll":-226.25,"a":0.002798,"b":-0.1773},{"k":"48","i":1,"ll":-226.25,"a":0.002673,"b":-0.1021},{"k":"48","i":2,"ll":-226.25,"a":0.002085,"b":0.0365},{"k":"48","i":3,"ll":-226.25,"a":0.001191,"b":0.2014},{"k":"48","i":4,"ll":-226.25,"a":0.000232,"b":0.3486},{"k":"48","i":5,"ll":-226.25,"a":-0.000537,"b":0.4384},{"k":"48","i":6,"ll":-226.25,"a":-0.000908,"b":0.447},{"k":"48","i":7,"ll":-226.25,"a":-0.000783,"b":0.3719},{"k":"48","i":8,"ll":-226.25,"a":-0.000195,"b":0.2333},{"k":"48","i":9,"ll":-226.25,"a":0.000699,"b":0.0684},{"k":"48","i":10,"ll":-226.25,"a":0.001658,"b":-0.0788},{"k":"48","i":11,"ll":-226.25,"a":0.002427,"b":-0.1686},
{"k":"49","i":0,"ll":-223.75,"a":0.002745,"b":-0.1683},{"k":"49","i":1,"ll":-223.75,"a":0.002623,"b":-0.0953},{"k":"49","i":2,"ll":-223.75,"a":0.002052,"b":0.0393},{"k":"49","i":3,"ll":-223.75,"a":0.001184,"b":0.1995},{"k":"49","i":4,"ll":-223.75,"a":0.000252,"b":0.3424},{"k":"49","i":5,"ll":-223.75,"a":-0.000495,"b":0.4297},{"k":"49","i":6,"ll":-223.75,"a":-0.000855,"b":0.4381},{"k":"49","i":7,"ll":-223.75,"a":-0.000733,"b":0.3651},{"k":"49","i":8,"ll":-223.75,"a":-0.000162,"b":0.2305},{"k":"49","i":9,"ll":-223.75,"a":0.000706,"b":0.0703},{"k":"49","i":10,"ll":-223.75,"a":0.001638,"b":-0.0726},{"k":"49","i":11,"ll":-223.75,"a":0.002385,"b":-0.1599},
{"k":"50","i":0,"ll":-221.25,"a":0.002693,"b":-0.1595},{"k":"50","i":1,"ll":-221.25,"a":0.002575,"b":-0.0886},{"k":"50","i":2,"ll":-221.25,"a":0.00202,"b":0.0421},{"k":"50","i":3,"ll":-221.25,"a":0.001177,"b":0.1976},{"k":"50","i":4,"ll":-221.25,"a":0.000272,"b":0.3364},{"k":"50","i":5,"ll":-221.25,"a":-0.000453,"b":0.4211},{"k":"50","i":6,"ll":-221.25,"a":-0.000803,"b":0.4293},{"k":"50","i":7,"ll":-221.25,"a":-0.000685,"b":0.3584},{"k":"50","i":8,"ll":-221.25,"a":-0.00013,"b":0.2277},{"k":"50","i":9,"ll":-221.25,"a":0.000713,"b":0.0722},{"k":"50","i":10,"ll":-221.25,"a":0.001618,"b":-0.0666},{"k":"50","i":11,"ll":-221.25,"a":0.002343,"b":-0.1513},
{"k":"51","i":0,"ll":-218.75,"a":0.002642,"b":-0.1509},{"k":"51","i":1,"ll":-218.75,"a":0.002527,"b":-0.0821},{"k":"51","i":2,"ll":-218.75,"a":0.001988,"b":0.0448},{"k":"51","i":3,"ll":-218.75,"a":0.00117,"b":0.1958},{"k":"51","i":4,"ll":-218.75,"a":0.000292,"b":0.3305},{"k":"51","i":5,"ll":-218.75,"a":-0.000412,"b":0.4128},{"k":"51","i":6,"ll":-218.75,"a":-0.000752,"b":0.4207},{"k":"51","i":7,"ll":-218.75,"a":-0.000637,"b":0.3519},{"k":"51","i":8,"ll":-218.75,"a":-0.000098,"b":0.225},{"k":"51","i":9,"ll":-218.75,"a":0.00072,"b":0.074},{"k":"51","i":10,"ll":-218.75,"a":0.001598,"b":-0.0607},{"k":"51","i":11,"ll":-218.75,"a":0.002302,"b":-0.143},
{"k":"52","i":0,"ll":-216.25,"a":0.002591,"b":-0.1424},{"k":"52","i":1,"ll":-216.25,"a":0.00248,"b":-0.0757},{"k":"52","i":2,"ll":-216.25,"a":0.001958,"b":0.0474},{"k":"52","i":3,"ll":-216.25,"a":0.001164,"b":0.194},{"k":"52","i":4,"ll":-216.25,"a":0.000311,"b":0.3247},{"k":"52","i":5,"ll":-216.25,"a":-0.000372,"b":0.4046},{"k":"52","i":6,"ll":-216.25,"a":-0.000701,"b":0.4122},{"k":"52","i":7,"ll":-216.25,"a":-0.00059,"b":0.3455},{"k":"52","i":8,"ll":-216.25,"a":-0.000068,"b":0.2224},{"k":"52","i":9,"ll":-216.25,"a":0.000726,"b":0.0758},{"k":"52","i":10,"ll":-216.25,"a":0.001579,"b":-0.0549},{"k":"52","i":11,"ll":-216.25,"a":0.002262,"b":-0.1348},
{"k":"53","i":0,"ll":-213.75,"a":0.002542,"b":-0.1342},{"k":"53","i":1,"ll":-213.75,"a":0.002434,"b":-0.0694},{"k":"53","i":2,"ll":-213.75,"a":0.001927,"b":0.05},{"k":"53","i":3,"ll":-213.75,"a":0.001157,"b":0.1922},{"k":"53","i":4,"ll":-213.75,"a":0.00033,"b":0.3191},{"k":"53","i":5,"ll":-213.75,"a":-0.000333,"b":0.3965},{"k":"53","i":6,"ll":-213.75,"a":-0.000652,"b":0.404},{"k":"53","i":7,"ll":-213.75,"a":-0.000544,"b":0.3392},{"k":"53","i":8,"ll":-213.75,"a":-0.000037,"b":0.2198},{"k":"53","i":9,"ll":-213.75,"a":0.000733,"b":0.0776},{"k":"53","i":10,"ll":-213.75,"a":0.00156,"b":-0.0493},{"k":"53","i":11,"ll":-213.75,"a":0.002223,"b":-0.1267},
{"k":"54","i":0,"ll":-211.25,"a":0.002494,"b":-0.126},{"k":"54","i":1,"ll":-211.25,"a":0.00239,"b":-0.0633},{"k":"54","i":2,"ll":-211.25,"a":0.001898,"b":0.0526},{"k":"54","i":3,"ll":-211.25,"a":0.001151,"b":0.1905},{"k":"54","i":4,"ll":-211.25,"a":0.000349,"b":0.3135},{"k":"54","i":5,"ll":-211.25,"a":-0.000294,"b":0.3886},{"k":"54","i":6,"ll":-211.25,"a":-0.000604,"b":0.3958},{"k":"54","i":7,"ll":-211.25,"a":-0.0005,"b":0.333},{"k":"54","i":8,"ll":-211.25,"a":-0.000008,"b":0.2172},{"k":"54","i":9,"ll":-211.25,"a":0.000739,"b":0.079},{"k":"54","i":10,"ll":-211.25,"a":0.001541,"b":-0.0437},{"k":"54","i":11,"ll":-211.25,"a":0.002184,"b":-0.1188},
{"k":"55","i":0,"ll":-208.75,"a":0.002447,"b":-0.1181},{"k":"55","i":1,"ll":-208.75,"a":0.002345,"b":-0.0572},{"k":"55","i":2,"ll":-208.75,"a":0.001869,"b":0.0551},{"k":"55","i":3,"ll":-208.75,"a":0.001145,"b":0.1888},{"k":"55","i":4,"ll":-208.75,"a":0.000367,"b":0.3081},{"k":"55","i":5,"ll":-208.75,"a":-0.000256,"b":0.3809},{"k":"55","i":6,"ll":-208.75,"a":-0.000557,"b":0.3879},{"k":"55","i":7,"ll":-208.75,"a":-0.000455,"b":0.327},{"k":"55","i":8,"ll":-208.75,"a":0.000021,"b":0.2147},{"k":"55","i":9,"ll":-208.75,"a":0.000745,"b":0.081},{"k":"55","i":10,"ll":-208.75,"a":0.001523,"b":-0.0383},{"k":"55","i":11,"ll":-208.75,"a":0.002146,"b":-0.1111},
{"k":"56","i":0,"ll":-206.25,"a":0.0024,"b":-0.1103},{"k":"56","i":1,"ll":-206.25,"a":0.002302,"b":-0.0513},{"k":"56","i":2,"ll":-206.25,"a":0.00184,"b":0.0576},{"k":"56","i":3,"ll":-206.25,"a":0.001138,"b":0.1871},{"k":"56","i":4,"ll":-206.25,"a":0.000385,"b":0.3027},{"k":"56","i":5,"ll":-206.25,"a":-0.000219,"b":0.3733},{"k":"56","i":6,"ll":-206.25,"a":-0.00051,"b":0.3801},{"k":"56","i":7,"ll":-206.25,"a":-0.000412,"b":0.3211},{"k":"56","i":8,"ll":-206.25,"a":0.00005,"b":0.2122},{"k":"56","i":9,"ll":-206.25,"a":0.000752,"b":0.0827},{"k":"56","i":10,"ll":-206.25,"a":0.001505,"b":-0.0329},{"k":"56","i":11,"ll":-206.25,"a":0.002109,"b":-0.1035},
{"k":"57","i":0,"ll":-203.75,"a":0.002355,"b":-0.1026},{"k":"57","i":1,"ll":-203.75,"a":0.00226,"b":-0.0455},{"k":"57","i":2,"ll":-203.75,"a":0.001812,"b":0.06},{"k":"57","i":3,"ll":-203.75,"a":0.001132,"b":0.1855},{"k":"57","i":4,"ll":-203.75,"a":0.000402,"b":0.2975},{"k":"57","i":5,"ll":-203.75,"a":-0.000183,"b":0.3658},{"k":"57","i":6,"ll":-203.75,"a":-0.000465,"b":0.3724},{"k":"57","i":7,"ll":-203.75,"a":-0.00037,"b":0.3153},{"k":"57","i":8,"ll":-203.75,"a":0.000078,"b":0.2098},{"k":"57","i":9,"ll":-203.75,"a":0.000758,"b":0.0843},{"k":"57","i":10,"ll":-203.75,"a":0.001488,"b":-0.0277},{"k":"57","i":11,"ll":-203.75,"a":0.002073,"b":-0.096},
{"k":"58","i":0,"ll":-201.25,"a":0.00231,"b":-0.0951},{"k":"58","i":1,"ll":-201.25,"a":0.002218,"b":-0.0397},{"k":"58","i":2,"ll":-201.25,"a":0.001785,"b":0.0624},{"k":"58","i":3,"ll":-201.25,"a":0.001126,"b":0.1839},{"k":"58","i":4,"ll":-201.25,"a":0.000419,"b":0.2923},{"k":"58","i":5,"ll":-201.25,"a":-0.000147,"b":0.3585},{"k":"58","i":6,"ll":-201.25,"a":-0.00042,"b":0.3649},{"k":"58","i":7,"ll":-201.25,"a":-0.000328,"b":0.3095},{"k":"58","i":8,"ll":-201.25,"a":0.000105,"b":0.2074},{"k":"58","i":9,"ll":-201.25,"a":0.000764,"b":0.0859},{"k":"58","i":10,"ll":-201.25,"a":0.001471,"b":-0.0225},{"k":"58","i":11,"ll":-201.25,"a":0.002037,"b":-0.0887},
{"k":"59","i":0,"ll":-198.75,"a":0.002266,"b":-0.0877},{"k":"59","i":1,"ll":-198.75,"a":0.002177,"b":-0.0341},{"k":"59","i":2,"ll":-198.75,"a":0.001758,"b":0.0647},{"k":"59","i":3,"ll":-198.75,"a":0.001121,"b":0.1823},{"k":"59","i":4,"ll":-198.75,"a":0.000436,"b":0.2873},{"k":"59","i":5,"ll":-198.75,"a":-0.000112,"b":0.3513},{"k":"59","i":6,"ll":-198.75,"a":-0.000376,"b":0.3575},{"k":"59","i":7,"ll":-198.75,"a":-0.000287,"b":0.3039},{"k":"59","i":8,"ll":-198.75,"a":0.000132,"b":0.2051},{"k":"59","i":9,"ll":-198.75,"a":0.000769,"b":0.0875},{"k":"59","i":10,"ll":-198.75,"a":0.001454,"b":-0.0175},{"k":"59","i":11,"ll":-198.75,"a":0.002002,"b":-0.0815},
{"k":"60","i":0,"ll":-196.25,"a":0.002223,"b":-0.0804},{"k":"60","i":1,"ll":-196.25,"a":0.002137,"b":-0.0286},{"k":"60","i":2,"ll":-196.25,"a":0.001731,"b":0.067},{"k":"60","i":3,"ll":-196.25,"a":0.001115,"b":0.1808},{"k":"60","i":4,"ll":-196.25,"a":0.000453,"b":0.2823},{"k":"60","i":5,"ll":-196.25,"a":-0.000077,"b":0.3442},{"k":"60","i":6,"ll":-196.25,"a":-0.000333,"b":0.3502},{"k":"60","i":7,"ll":-196.25,"a":-0.000247,"b":0.2984},{"k":"60","i":8,"ll":-196.25,"a":0.000159,"b":0.2028},{"k":"60","i":9,"ll":-196.25,"a":0.000775,"b":0.089},{"k":"60","i":10,"ll":-196.25,"a":0.001437,"b":-0.0125},{"k":"60","i":11,"ll":-196.25,"a":0.001967,"b":-0.0744},
{"k":"61","i":0,"ll":-193.75,"a":0.002181,"b":-0.0732},{"k":"61","i":1,"ll":-193.75,"a":0.002097,"b":-0.0231},{"k":"61","i":2,"ll":-193.75,"a":0.001705,"b":0.0693},{"k":"61","i":3,"ll":-193.75,"a":0.001109,"b":0.1792},{"k":"61","i":4,"ll":-193.75,"a":0.000469,"b":0.2774},{"k":"61","i":5,"ll":-193.75,"a":-0.000043,"b":0.3373},{"k":"61","i":6,"ll":-193.75,"a":-0.000291,"b":0.343},{"k":"61","i":7,"ll":-193.75,"a":-0.000207,"b":0.293},{"k":"61","i":8,"ll":-193.75,"a":0.000185,"b":0.2005},{"k":"61","i":9,"ll":-193.75,"a":0.000781,"b":0.0906},{"k":"61","i":10,"ll":-193.75,"a":0.001421,"b":-0.0076},{"k":"61","i":11,"ll":-193.75,"a":0.001933,"b":-0.0675},
{"k":"62","i":0,"ll":-191.25,"a":0.002139,"b":-0.0662},{"k":"62","i":1,"ll":-191.25,"a":0.002058,"b":-0.0178},{"k":"62","i":2,"ll":-191.25,"a":0.001679,"b":0.0715},{"k":"62","i":3,"ll":-191.25,"a":0.001104,"b":0.1777},{"k":"62","i":4,"ll":-191.25,"a":0.000485,"b":0.2726},{"k":"62","i":5,"ll":-191.25,"a":-0.00001,"b":0.3304},{"k":"62","i":6,"ll":-191.25,"a":-0.000249,"b":0.336},{"k":"62","i":7,"ll":-191.25,"a":-0.000168,"b":0.2876},{"k":"62","i":8,"ll":-191.25,"a":0.000211,"b":0.1983},{"k":"62","i":9,"ll":-191.25,"a":0.000786,"b":0.0921},{"k":"62","i":10,"ll":-191.25,"a":0.001405,"b":-0.0028},{"k":"62","i":11,"ll":-191.25,"a":0.0019,"b":-0.0606},
{"k":"63","i":0,"ll":-188.75,"a":0.002098,"b":-0.0593},{"k":"63","i":1,"ll":-188.75,"a":0.00202,"b":-0.0125},{"k":"63","i":2,"ll":-188.75,"a":0.001654,"b":0.0737},{"k":"63","i":3,"ll":-188.75,"a":0.001098,"b":0.1763},{"k":"63","i":4,"ll":-188.75,"a":0.000501,"b":0.2678},{"k":"63","i":5,"ll":-188.75,"a":0.000023,"b":0.3237},{"k":"63","i":6,"ll":-188.75,"a":-0.000208,"b":0.3291},{"k":"63","i":7,"ll":-188.75,"a":-0.00013,"b":0.2823},{"k":"63","i":8,"ll":-188.75,"a":0.000236,"b":0.1961},{"k":"63","i":9,"ll":-188.75,"a":0.000792,"b":0.0935},{"k":"63","i":10,"ll":-188.75,"a":0.001389,"b":0.002},{"k":"63","i":11,"ll":-188.75,"a":0.001867,"b":-0.0539},
{"k":"64","i":0,"ll":-186.25,"a":0.002057,"b":-0.0524},{"k":"64","i":1,"ll":-186.25,"a":0.001982,"b":-0.0073},{"k":"64","i":2,"ll":-186.25,"a":0.001629,"b":0.0758},{"k":"64","i":3,"ll":-186.25,"a":0.001093,"b":0.1748},{"k":"64","i":4,"ll":-186.25,"a":0.000517,"b":0.2631},{"k":"64","i":5,"ll":-186.25,"a":0.000056,"b":0.317},{"k":"64","i":6,"ll":-186.25,"a":-0.000167,"b":0.3222},{"k":"64","i":7,"ll":-186.25,"a":-0.000092,"b":0.2771},{"k":"64","i":8,"ll":-186.25,"a":0.000261,"b":0.194},{"k":"64","i":9,"ll":-186.25,"a":0.000797,"b":0.095},{"k":"64","i":10,"ll":-186.25,"a":0.001373,"b":0.0067},{"k":"64","i":11,"ll":-186.25,"a":0.001834,"b":-0.0472},
{"k":"65","i":0,"ll":-183.75,"a":0.002017,"b":-0.0457},{"k":"65","i":1,"ll":-183.75,"a":0.001945,"b":-0.0022},{"k":"65","i":2,"ll":-183.75,"a":0.001604,"b":0.078},{"k":"65","i":3,"ll":-183.75,"a":0.001087,"b":0.1734},{"k":"65","i":4,"ll":-183.75,"a":0.000532,"b":0.2585},{"k":"65","i":5,"ll":-183.75,"a":0.000088,"b":0.3105},{"k":"65","i":6,"ll":-183.75,"a":-0.000127,"b":0.3155},{"k":"65","i":7,"ll":-183.75,"a":-0.000055,"b":0.272},{"k":"65","i":8,"ll":-183.75,"a":0.000286,"b":0.1919},{"k":"65","i":9,"ll":-183.75,"a":0.000803,"b":0.0964},{"k":"65","i":10,"ll":-183.75,"a":0.001358,"b":0.0113},{"k":"65","i":11,"ll":-183.75,"a":0.001802,"b":-0.0407},
{"k":"66","i":0,"ll":-181.25,"a":0.001977,"b":-0.039},{"k":"66","i":1,"ll":-181.25,"a":0.001908,"b":0.0028},{"k":"66","i":2,"ll":-181.25,"a":0.00158,"b":0.0801},{"k":"66","i":3,"ll":-181.25,"a":0.001082,"b":0.1719},{"k":"66","i":4,"ll":-181.25,"a":0.000548,"b":0.2539},{"k":"66","i":5,"ll":-181.25,"a":0.000119,"b":0.304},{"k":"66","i":6,"ll":-181.25,"a":-0.000087,"b":0.3088},{"k":"66","i":7,"ll":-181.25,"a":-0.000018,"b":0.267},{"k":"66","i":8,"ll":-181.25,"a":0.00031,"b":0.1898},{"k":"66","i":9,"ll":-181.25,"a":0.000808,"b":0.0979},{"k":"66","i":10,"ll":-181.25,"a":0.001343,"b":0.0159},{"k":"66","i":11,"ll":-181.25,"a":0.001771,"b":-0.0342},
{"k":"67","i":0,"ll":-178.75,"a":0.001938,"b":-0.0324},{"k":"67","i":1,"ll":-178.75,"a":0.001871,"b":0.0078},{"k":"67","i":2,"ll":-178.75,"a":0.001556,"b":0.0821},{"k":"67","i":3,"ll":-178.75,"a":0.001077,"b":0.1706},{"k":"67","i":4,"ll":-178.75,"a":0.000563,"b":0.2494},{"k":"67","i":5,"ll":-178.75,"a":0.00015,"b":0.2976},{"k":"67","i":6,"ll":-178.75,"a":-0.000048,"b":0.3022},{"k":"67","i":7,"ll":-178.75,"a":0.000019,"b":0.262},{"k":"67","i":8,"ll":-178.75,"a":0.000334,"b":0.1877},{"k":"67","i":9,"ll":-178.75,"a":0.000813,"b":0.0993},{"k":"67","i":10,"ll":-178.75,"a":0.001327,"b":0.0204},{"k":"67","i":11,"ll":-178.75,"a":0.00174,"b":-0.0278},
{"k":"68","i":0,"ll":-176.25,"a":0.0019,"b":-0.0259},{"k":"68","i":1,"ll":-176.25,"a":0.001835,"b":0.0128},{"k":"68","i":2,"ll":-176.25,"a":0.001532,"b":0.0842},{"k":"68","i":3,"ll":-176.25,"a":0.001072,"b":0.1692},{"k":"68","i":4,"ll":-176.25,"a":0.000577,"b":0.245},{"k":"68","i":5,"ll":-176.25,"a":0.000181,"b":0.2913},{"k":"68","i":6,"ll":-176.25,"a":-0.00001,"b":0.2957},{"k":"68","i":7,"ll":-176.25,"a":0.000055,"b":0.257},{"k":"68","i":8,"ll":-176.25,"a":0.000358,"b":0.1856},{"k":"68","i":9,"ll":-176.25,"a":0.000818,"b":0.1006},{"k":"68","i":10,"ll":-176.25,"a":0.001313,"b":0.0248},{"k":"68","i":11,"ll":-176.25,"a":0.001709,"b":-0.0215},
{"k":"69","i":0,"ll":-173.75,"a":0.001862,"b":-0.0195},{"k":"69","i":1,"ll":-173.75,"a":0.0018,"b":0.0177},{"k":"69","i":2,"ll":-173.75,"a":0.001509,"b":0.0862},{"k":"69","i":3,"ll":-173.75,"a":0.001067,"b":0.1678},{"k":"69","i":4,"ll":-173.75,"a":0.000592,"b":0.2406},{"k":"69","i":5,"ll":-173.75,"a":0.000212,"b":0.285},{"k":"69","i":6,"ll":-173.75,"a":0.000029,"b":0.2893},{"k":"69","i":7,"ll":-173.75,"a":0.00009,"b":0.2521},{"k":"69","i":8,"ll":-173.75,"a":0.000381,"b":0.1836},{"k":"69","i":9,"ll":-173.75,"a":0.000823,"b":0.102},{"k":"69","i":10,"ll":-173.75,"a":0.001298,"b":0.0292},{"k":"69","i":11,"ll":-173.75,"a":0.001678,"b":-0.0152},
{"k":"70","i":0,"ll":-171.25,"a":0.001824,"b":-0.0131},{"k":"70","i":1,"ll":-171.25,"a":0.001764,"b":0.0225},{"k":"70","i":2,"ll":-171.25,"a":0.001485,"b":0.0882},{"k":"70","i":3,"ll":-171.25,"a":0.001062,"b":0.1664},{"k":"70","i":4,"ll":-171.25,"a":0.000607,"b":0.2362},{"k":"70","i":5,"ll":-171.25,"a":0.000242,"b":0.2788},{"k":"70","i":6,"ll":-171.25,"a":0.000066,"b":0.2829},{"k":"70","i":7,"ll":-171.25,"a":0.000126,"b":0.2473},{"k":"70","i":8,"ll":-171.25,"a":0.000405,"b":0.1816},{"k":"70","i":9,"ll":-171.25,"a":0.000828,"b":0.1034},{"k":"70","i":10,"ll":-171.25,"a":0.001283,"b":0.0336},{"k":"70","i":11,"ll":-171.25,"a":0.001648,"b":-0.009},
{"k":"71","i":0,"ll":-168.75,"a":0.001786,"b":-0.0067},{"k":"71","i":1,"ll":-168.75,"a":0.001729,"b":0.0274},{"k":"71","i":2,"ll":-168.75,"a":0.001462,"b":0.0902},{"k":"71","i":3,"ll":-168.75,"a":0.001057,"b":0.1651},{"k":"71","i":4,"ll":-168.75,"a":0.000621,"b":0.2319},{"k":"71","i":5,"ll":-168.75,"a":0.000272,"b":0.2726},{"k":"71","i":6,"ll":-168.75,"a":0.000104,"b":0.2765},{"k":"71","i":7,"ll":-168.75,"a":0.000161,"b":0.2425},{"k":"71","i":8,"ll":-168.75,"a":0.000428,"b":0.1796},{"k":"71","i":9,"ll":-168.75,"a":0.000833,"b":0.1047},{"k":"71","i":10,"ll":-168.75,"a":0.001269,"b":0.0379},{"k":"71","i":11,"ll":-168.75,"a":0.001618,"b":-0.0028},
{"k":"72","i":0,"ll":-166.25,"a":0.001748,"b":-0.0004},{"k":"72","i":1,"ll":-166.25,"a":0.001694,"b":0.0321},{"k":"72","i":2,"ll":-166.25,"a":0.001439,"b":0.0922},{"k":"72","i":3,"ll":-166.25,"a":0.001052,"b":0.1637},{"k":"72","i":4,"ll":-166.25,"a":0.000636,"b":0.2275},{"k":"72","i":5,"ll":-166.25,"a":0.000302,"b":0.2665},{"k":"72","i":6,"ll":-166.25,"a":0.000142,"b":0.2702},{"k":"72","i":7,"ll":-166.25,"a":0.000196,"b":0.2377},{"k":"72","i":8,"ll":-166.25,"a":0.000451,"b":0.1776},{"k":"72","i":9,"ll":-166.25,"a":0.000838,"b":0.1061},{"k":"72","i":10,"ll":-166.25,"a":0.001254,"b":0.0423},{"k":"72","i":11,"ll":-166.25,"a":0.001588,"b":0.0033},
{"k":"73","i":0,"ll":-163.75,"a":0.001711,"b":0.0059},{"k":"73","i":1,"ll":-163.75,"a":0.001659,"b":0.0369},{"k":"73","i":2,"ll":-163.75,"a":0.001416,"b":0.0942},{"k":"73","i":3,"ll":-163.75,"a":0.001047,"b":0.1624},{"k":"73","i":4,"ll":-163.75,"a":0.00065,"b":0.2232},{"k":"73","i":5,"ll":-163.75,"a":0.000332,"b":0.2604},{"k":"73","i":6,"ll":-163.75,"a":0.000179,"b":0.2639},{"k":"73","i":7,"ll":-163.75,"a":0.000231,"b":0.2329},{"k":"73","i":8,"ll":-163.75,"a":0.000474,"b":0.1756},{"k":"73","i":9,"ll":-163.75,"a":0.000843,"b":0.1074},{"k":"73","i":10,"ll":-163.75,"a":0.00124,"b":0.0466},{"k":"73","i":11,"ll":-163.75,"a":0.001558,"b":0.0094},
{"k":"74","i":0,"ll":-161.25,"a":0.001674,"b":0.0122},{"k":"74","i":1,"ll":-161.25,"a":0.001625,"b":0.0417},{"k":"74","i":2,"ll":-161.25,"a":0.001393,"b":0.0962},{"k":"74","i":3,"ll":-161.25,"a":0.001042,"b":0.1611},{"k":"74","i":4,"ll":-161.25,"a":0.000664,"b":0.2189},{"k":"74","i":5,"ll":-161.25,"a":0.000362,"b":0.2543},{"k":"74","i":6,"ll":-161.25,"a":0.000216,"b":0.2577},{"k":"74","i":7,"ll":-161.25,"a":0.000266,"b":0.2281},{"k":"74","i":8,"ll":-161.25,"a":0.000497,"b":0.1736},{"k":"74","i":9,"ll":-161.25,"a":0.000848,"b":0.1088},{"k":"74","i":10,"ll":-161.25,"a":0.001226,"b":0.0509},{"k":"74","i":11,"ll":-161.25,"a":0.001528,"b":0.0156},
{"k":"75","i":0,"ll":-158.75,"a":0.001636,"b":0.0184},{"k":"75","i":1,"ll":-158.75,"a":0.00159,"b":0.0465},{"k":"75","i":2,"ll":-158.75,"a":0.00137,"b":0.0982},{"k":"75","i":3,"ll":-158.75,"a":0.001037,"b":0.1597},{"k":"75","i":4,"ll":-158.75,"a":0.000679,"b":0.2146},{"k":"75","i":5,"ll":-158.75,"a":0.000392,"b":0.2481},{"k":"75","i":6,"ll":-158.75,"a":0.000254,"b":0.2514},{"k":"75","i":7,"ll":-158.75,"a":0.0003,"b":0.2233},{"k":"75","i":8,"ll":-158.75,"a":0.00052,"b":0.1716},{"k":"75","i":9,"ll":-158.75,"a":0.000853,"b":0.1101},{"k":"75","i":10,"ll":-158.75,"a":0.001211,"b":0.0552},{"k":"75","i":11,"ll":-158.75,"a":0.001498,"b":0.0217},
{"k":"76","i":0,"ll":-156.25,"a":0.001599,"b":0.0248},{"k":"76","i":1,"ll":-156.25,"a":0.001555,"b":0.0513},{"k":"76","i":2,"ll":-156.25,"a":0.001347,"b":0.1002},{"k":"76","i":3,"ll":-156.25,"a":0.001032,"b":0.1584},{"k":"76","i":4,"ll":-156.25,"a":0.000693,"b":0.2103},{"k":"76","i":5,"ll":-156.25,"a":0.000422,"b":0.242},{"k":"76","i":6,"ll":-156.25,"a":0.000291,"b":0.245},{"k":"76","i":7,"ll":-156.25,"a":0.000335,"b":0.2185},{"k":"76","i":8,"ll":-156.25,"a":0.000543,"b":0.1696},{"k":"76","i":9,"ll":-156.25,"a":0.000858,"b":0.1114},{"k":"76","i":10,"ll":-156.25,"a":0.001197,"b":0.0595},{"k":"76","i":11,"ll":-156.25,"a":0.001468,"b":0.0278},
{"k":"77","i":0,"ll":-153.75,"a":0.001561,"b":0.0311},{"k":"77","i":1,"ll":-153.75,"a":0.00152,"b":0.0561},{"k":"77","i":2,"ll":-153.75,"a":0.001324,"b":0.1022},{"k":"77","i":3,"ll":-153.75,"a":0.001027,"b":0.157},{"k":"77","i":4,"ll":-153.75,"a":0.000708,"b":0.2059},{"k":"77","i":5,"ll":-153.75,"a":0.000452,"b":0.2358},{"k":"77","i":6,"ll":-153.75,"a":0.000329,"b":0.2387},{"k":"77","i":7,"ll":-153.75,"a":0.000371,"b":0.2137},{"k":"77","i":8,"ll":-153.75,"a":0.000566,"b":0.1676},{"k":"77","i":9,"ll":-153.75,"a":0.000863,"b":0.1128},{"k":"77","i":10,"ll":-153.75,"a":0.001182,"b":0.0639},{"k":"77","i":11,"ll":-153.75,"a":0.001438,"b":0.034},
{"k":"78","i":0,"ll":-151.25,"a":0.001523,"b":0.0376},{"k":"78","i":1,"ll":-151.25,"a":0.001484,"b":0.061},{"k":"78","i":2,"ll":-151.25,"a":0.0013,"b":0.1042},{"k":"78","i":3,"ll":-151.25,"a":0.001022,"b":0.1556},{"k":"78","i":4,"ll":-151.25,"a":0.000723,"b":0.2015},{"k":"78","i":5,"ll":-151.25,"a":0.000483,"b":0.2295},{"k":"78","i":6,"ll":-151.25,"a":0.000367,"b":0.2322},{"k":"78","i":7,"ll":-151.25,"a":0.000406,"b":0.2088},{"k":"78","i":8,"ll":-151.25,"a":0.00059,"b":0.1656},{"k":"78","i":9,"ll":-151.25,"a":0.000868,"b":0.1142},{"k":"78","i":10,"ll":-151.25,"a":0.001167,"b":0.0683},{"k":"78","i":11,"ll":-151.25,"a":0.001407,"b":0.0403},
{"k":"79","i":0,"ll":-148.75,"a":0.001484,"b":0.0441},{"k":"79","i":1,"ll":-148.75,"a":0.001448,"b":0.066},{"k":"79","i":2,"ll":-148.75,"a":0.001277,"b":0.1063},{"k":"79","i":3,"ll":-148.75,"a":0.001017,"b":0.1542},{"k":"79","i":4,"ll":-148.75,"a":0.000738,"b":0.1971},{"k":"79","i":5,"ll":-148.75,"a":0.000514,"b":0.2232},{"k":"79","i":6,"ll":-148.75,"a":0.000406,"b":0.2257},{"k":"79","i":7,"ll":-148.75,"a":0.000442,"b":0.2038},{"k":"79","i":8,"ll":-148.75,"a":0.000614,"b":0.1635},{"k":"79","i":9,"ll":-148.75,"a":0.000873,"b":0.1156},{"k":"79","i":10,"ll":-148.75,"a":0.001152,"b":0.0728},{"k":"79","i":11,"ll":-148.75,"a":0.001376,"b":0.0466},
{"k":"80","i":0,"ll":-146.25,"a":0.001444,"b":0.0508},{"k":"80","i":1,"ll":-146.25,"a":0.00141,"b":0.0711},{"k":"80","i":2,"ll":-146.25,"a":0.001252,"b":0.1084},{"k":"80","i":3,"ll":-146.25,"a":0.001011,"b":0.1528},{"k":"80","i":4,"ll":-146.25,"a":0.000753,"b":0.1925},{"k":"80","i":5,"ll":-146.25,"a":0.000546,"b":0.2167},{"k":"80","i":6,"ll":-146.25,"a":0.000446,"b":0.219},{"k":"80","i":7,"ll":-146.25,"a":0.00048,"b":0.1988},{"k":"80","i":8,"ll":-146.25,"a":0.000638,"b":0.1614},{"k":"80","i":9,"ll":-146.25,"a":0.000879,"b":0.117},{"k":"80","i":10,"ll":-146.25,"a":0.001137,"b":0.0773},{"k":"80","i":11,"ll":-146.25,"a":0.001344,"b":0.0531},
{"k":"81","i":0,"ll":-143.75,"a":0.001403,"b":0.0577},{"k":"81","i":1,"ll":-143.75,"a":0.001372,"b":0.0763},{"k":"81","i":2,"ll":-143.75,"a":0.001227,"b":0.1106},{"k":"81","i":3,"ll":-143.75,"a":0.001006,"b":0.1513},{"k":"81","i":4,"ll":-143.75,"a":0.000769,"b":0.1877},{"k":"81","i":5,"ll":-143.75,"a":0.000579,"b":0.2099},{"k":"81","i":6,"ll":-143.75,"a":0.000487,"b":0.2121},{"k":"81","i":7,"ll":-143.75,"a":0.000518,"b":0.1935},{"k":"81","i":8,"ll":-143.75,"a":0.000663,"b":0.1592},{"k":"81","i":9,"ll":-143.75,"a":0.000884,"b":0.1185},{"k":"81","i":10,"ll":-143.75,"a":0.001121,"b":0.0821},{"k":"81","i":11,"ll":-143.75,"a":0.001311,"b":0.0599},
{"k":"82","i":0,"ll":-141.25,"a":0.00136,"b":0.0649},{"k":"82","i":1,"ll":-141.25,"a":0.001332,"b":0.0818},{"k":"82","i":2,"ll":-141.25,"a":0.0012,"b":0.1128},{"k":"82","i":3,"ll":-141.25,"a":0.001,"b":0.1498},{"k":"82","i":4,"ll":-141.25,"a":0.000785,"b":0.1828},{"k":"82","i":5,"ll":-141.25,"a":0.000613,"b":0.2029},{"k":"82","i":6,"ll":-141.25,"a":0.00053,"b":0.2049},{"k":"82","i":7,"ll":-141.25,"a":0.000558,"b":0.188},{"k":"82","i":8,"ll":-141.25,"a":0.00069,"b":0.157},{"k":"82","i":9,"ll":-141.25,"a":0.00089,"b":0.12},{"k":"82","i":10,"ll":-141.25,"a":0.001105,"b":0.087},{"k":"82","i":11,"ll":-141.25,"a":0.001277,"b":0.0669},
{"k":"83","i":0,"ll":-138.75,"a":0.001315,"b":0.0726},{"k":"83","i":1,"ll":-138.75,"a":0.00129,"b":0.0876},{"k":"83","i":2,"ll":-138.75,"a":0.001173,"b":0.1152},{"k":"83","i":3,"ll":-138.75,"a":0.000994,"b":0.1482},{"k":"83","i":4,"ll":-138.75,"a":0.000803,"b":0.1776},{"k":"83","i":5,"ll":-138.75,"a":0.000649,"b":0.1955},{"k":"83","i":6,"ll":-138.75,"a":0.000575,"b":0.1972},{"k":"83","i":7,"ll":-138.75,"a":0.0006,"b":0.1822},{"k":"83","i":8,"ll":-138.75,"a":0.000717,"b":0.1546},{"k":"83","i":9,"ll":-138.75,"a":0.000896,"b":0.1216},{"k":"83","i":10,"ll":-138.75,"a":0.001088,"b":0.0922},{"k":"83","i":11,"ll":-138.75,"a":0.001241,"b":0.0743},
{"k":"84","i":0,"ll":-136.25,"a":0.001266,"b":0.0808},{"k":"84","i":1,"ll":-136.25,"a":0.001244,"b":0.0938},{"k":"84","i":2,"ll":-136.25,"a":0.001143,"b":0.1178},{"k":"84","i":3,"ll":-136.25,"a":0.000988,"b":0.1464},{"k":"84","i":4,"ll":-136.25,"a":0.000821,"b":0.1719},{"k":"84","i":5,"ll":-136.25,"a":0.000688,"b":0.1875},{"k":"84","i":6,"ll":-136.25,"a":0.000624,"b":0.189},{"k":"84","i":7,"ll":-136.25,"a":0.000646,"b":0.176},{"k":"84","i":8,"ll":-136.25,"a":0.000748,"b":0.152},{"k":"84","i":9,"ll":-136.25,"a":0.000902,"b":0.1234},{"k":"84","i":10,"ll":-136.25,"a":0.001069,"b":0.0979},{"k":"84","i":11,"ll":-136.25,"a":0.001202,"b":0.0823},
{"k":"85","i":0,"ll":-133.75,"a":0.001211,"b":0.09},{"k":"85","i":1,"ll":-133.75,"a":0.001193,"b":0.1008},{"k":"85","i":2,"ll":-133.75,"a":0.001109,"b":0.1208},{"k":"85","i":3,"ll":-133.75,"a":0.00098,"b":0.1445},{"k":"85","i":4,"ll":-133.75,"a":0.000842,"b":0.1656},{"k":"85","i":5,"ll":-133.75,"a":0.000732,"b":0.1785},{"k":"85","i":6,"ll":-133.75,"a":0.000679,"b":0.1798},{"k":"85","i":7,"ll":-133.75,"a":0.000697,"b":0.169},{"k":"85","i":8,"ll":-133.75,"a":0.000781,"b":0.1491},{"k":"85","i":9,"ll":-133.75,"a":0.00091,"b":0.1253},{"k":"85","i":10,"ll":-133.75,"a":0.001048,"b":0.1042},{"k":"85","i":11,"ll":-133.75,"a":0.001158,"b":0.0913},
{"k":"86","i":0,"ll":-131.25,"a":0.001146,"b":0.1011},{"k":"86","i":1,"ll":-131.25,"a":0.001132,"b":0.1092},{"k":"86","i":2,"ll":-131.25,"a":0.001069,"b":0.1242},{"k":"86","i":3,"ll":-131.25,"a":0.000972,"b":0.1421},{"k":"86","i":4,"ll":-131.25,"a":0.000868,"b":0.1581},{"k":"86","i":5,"ll":-131.25,"a":0.000784,"b":0.1678},{"k":"86","i":6,"ll":-131.25,"a":0.000744,"b":0.1687},{"k":"86","i":7,"ll":-131.25,"a":0.000758,"b":0.1606},{"k":"86","i":8,"ll":-131.25,"a":0.000821,"b":0.1456},{"k":"86","i":9,"ll":-131.25,"a":0.000918,"b":0.1277},{"k":"86","i":10,"ll":-131.25,"a":0.001022,"b":0.1117},{"k":"86","i":11,"ll":-131.25,"a":0.001106,"b":0.102},
{"k":"87","i":0,"ll":-129.5,"a":0.001051,"b":0.117},{"k":"87","i":1,"ll":-129.5,"a":0.001044,"b":0.1213},{"k":"87","i":2,"ll":-129.5,"a":0.00101,"b":0.1293},{"k":"87","i":3,"ll":-129.5,"a":0.000959,"b":0.1387},{"k":"87","i":4,"ll":-129.5,"a":0.000904,"b":0.1471},{"k":"87","i":5,"ll":-129.5,"a":0.00086,"b":0.1523},{"k":"87","i":6,"ll":-129.5,"a":0.000839,"b":0.1528},{"k":"87","i":7,"ll":-129.5,"a":0.000846,"b":0.1485},{"k":"87","i":8,"ll":-129.5,"a":0.00088,"b":0.1405},{"k":"87","i":9,"ll":-129.5,"a":0.000931,"b":0.1311},{"k":"87","i":10,"ll":-129.5,"a":0.000986,"b":0.1227},{"k":"87","i":11,"ll":-129.5,"a":0.00103,"b":0.1175}
],
"contours":[
{"c":"inner","i":0,"a":0.0010865,"b":0.1109},{"c":"inner","i":1,"a":0.0010783,"b":0.117},{"c":"inner","i":2,"a":0.0010344,"b":0.1279},{"c":"inner","i":3,"a":0.0009666,"b":0.1407},{"c":"inner","i":4,"a":0.0008929,"b":0.1519},{"c":"inner","i":5,"a":0.0008333,"b":0.1586},{"c":"inner","i":6,"a":0.0008035,"b":0.1589},{"c":"inner","i":7,"a":0.0008117,"b":0.1528},{"c":"inner","i":8,"a":0.0008556,"b":0.1419},{"c":"inner","i":9,"a":0.0009234,"b":0.1291},{"c":"inner","i":10,"a":0.0009971,"b":0.1179},{"c":"inner","i":11,"a":0.0010567,"b":0.1112},
{"c":"middle","i":0,"a":0.0011951,"b":0.0926},{"c":"middle","i":1,"a":0.0011807,"b":0.1034},{"c":"middle","i":2,"a":0.0011031,"b":0.1226},{"c":"middle","i":3,"a":0.0009831,"b":0.1451},{"c":"middle","i":4,"a":0.0008529,"b":0.165},{"c":"middle","i":5,"a":0.0007474,"b":0.1767},{"c":"middle","i":6,"a":0.0006949,"b":0.1773},{"c":"middle","i":7,"a":0.0007093,"b":0.1665},{"c":"middle","i":8,"a":0.0007869,"b":0.1473},{"c":"middle","i":9,"a":0.0009069,"b":0.1247},{"c":"middle","i":10,"a":0.0010371,"b":0.1049},{"c":"middle","i":11,"a":0.0011426,"b":0.0931},
{"c":"outer","i":0,"a":0.0012728,"b":0.0794},{"c":"outer","i":1,"a":0.001254,"b":0.0935},{"c":"outer","i":2,"a":0.0011523,"b":0.1188},{"c":"outer","i":3,"a":0.0009951,"b":0.1484},{"c":"outer","i":4,"a":0.0008245,"b":0.1743},{"c":"outer","i":5,"a":0.0006861,"b":0.1897},{"c":"outer","i":6,"a":0.0006172,"b":0.1904},{"c":"outer","i":7,"a":0.000636,"b":0.1763},{"c":"outer","i":8,"a":0.0007377,"b":0.151},{"c":"outer","i":9,"a":0.0008949,"b":0.1214},{"c":"outer","i":10,"a":0.0010655,"b":0.0955},{"c":"outer","i":11,"a":0.0012039,"b":0.0801}
],
"pts":[{"a":0,"b":0.2893},{"a":0.000945,"b":0.1349},{"a":0.001687,"b":0}],
"bar":[{"ll":-350},{"ll":-348},{"ll":-346},{"ll":-344},{"ll":-342},{"ll":-340},{"ll":-338},{"ll":-336},{"ll":-334},{"ll":-332},{"ll":-330},{"ll":-328},{"ll":-326},{"ll":-324},{"ll":-322},{"ll":-320},{"ll":-318},{"ll":-316},{"ll":-314},{"ll":-312},{"ll":-310},{"ll":-308},{"ll":-306},{"ll":-304},{"ll":-302},{"ll":-300},{"ll":-298},{"ll":-296},{"ll":-294},{"ll":-292},{"ll":-290},{"ll":-288},{"ll":-286},{"ll":-284},{"ll":-282},{"ll":-280},{"ll":-278},{"ll":-276},{"ll":-274},{"ll":-272},{"ll":-270},{"ll":-268},{"ll":-266},{"ll":-264},{"ll":-262},{"ll":-260},{"ll":-258},{"ll":-256},{"ll":-254},{"ll":-252},{"ll":-250},{"ll":-248},{"ll":-246},{"ll":-244},{"ll":-242},{"ll":-240},{"ll":-238},{"ll":-236},{"ll":-234},{"ll":-232},{"ll":-230},{"ll":-228},{"ll":-226},{"ll":-224},{"ll":-222},{"ll":-220},{"ll":-218},{"ll":-216},{"ll":-214},{"ll":-212},{"ll":-210},{"ll":-208},{"ll":-206},{"ll":-204},{"ll":-202},{"ll":-200},{"ll":-198},{"ll":-196},{"ll":-194},{"ll":-192},{"ll":-190},{"ll":-188},{"ll":-186},{"ll":-184},{"ll":-182},{"ll":-180},{"ll":-178},{"ll":-176},{"ll":-174},{"ll":-172},{"ll":-170},{"ll":-168},{"ll":-166},{"ll":-164},{"ll":-162},{"ll":-160},{"ll":-158},{"ll":-156},{"ll":-154},{"ll":-152},{"ll":-150},{"ll":-148},{"ll":-146},{"ll":-144},{"ll":-142},{"ll":-140},{"ll":-138},{"ll":-136},{"ll":-134},{"ll":-132},{"ll":-130}]
},
"vconcat":[
{
"width":663,"height":544,
"view":{"fill":"#ff0007","stroke":"#000000"},
"layer":[
{"data":{"name":"fill"},
"mark":{"type":"line","filled":true,"interpolate":"cardinal-closed","clip":true,"strokeWidth":0},
"encoding":{
"x":{"field":"a","type":"quantitative","scale":{"domain":[0,0.002],"nice":false,"zero":false},"axis":{"values":[0,0.0005,0.001,0.0015,0.002],"format":".4f","title":"Linear coefficient: a","labelFontSize":19,"titleFontSize":23,"labelPadding":16,"titlePadding":22}},
"y":{"field":"b","type":"quantitative","scale":{"domain":[0,0.35],"nice":false,"zero":false},"axis":{"values":[0,0.05,0.1,0.15,0.2,0.25,0.3,0.35],"format":".2f","title":"Square root coefficient: b","labelFontSize":19,"titleFontSize":23,"labelAngle":-90,"labelAlign":"center","labelBaseline":"bottom","labelPadding":14,"titlePadding":25}},
"detail":{"field":"k","type":"nominal"},
"order":{"field":"i","type":"quantitative"},
"color":{"field":"ll","type":"quantitative","scale":{"domain":[-350,-313.17,-276.33,-239.5,-202.67,-165.83,-129],"range":["#ff0000","#ff00ff","#4400ff","#00ffff","#00ff00","#ffff00","#ff0000"],"interpolate":"rgb"},"legend":null}
}},
{"data":{"name":"contours"},
"mark":{"type":"line","interpolate":"cardinal-closed","clip":true,"color":"#000000","strokeWidth":1.2},
"encoding":{
"x":{"field":"a","type":"quantitative"},
"y":{"field":"b","type":"quantitative"},
"detail":{"field":"c","type":"nominal"},
"order":{"field":"i","type":"quantitative"}
}},
{"data":{"name":"pts"},
"mark":{"type":"circle","size":140,"color":"#000000","opacity":1,"clip":true},
"encoding":{
"x":{"field":"a","type":"quantitative"},
"y":{"field":"b","type":"quantitative"}
}}
]
},
{
"width":665,"height":33,
"data":{"name":"bar"},
"mark":{"type":"rect","clip":true},
"encoding":{
"x":{"field":"ll","type":"quantitative","bin":{"binned":true,"step":2},"scale":{"domain":[-350,-129],"nice":false,"zero":false},"axis":{"values":[-350,-300,-250,-200,-150],"format":"d","title":"Log Likelihood","labelFontSize":19,"titleFontSize":23,"tickSize":14,"labelPadding":4,"titlePadding":28}},
"color":{"field":"ll","type":"quantitative","scale":{"domain":[-350,-313.17,-276.33,-239.5,-202.67,-165.83,-129],"range":["#ff0000","#ff00ff","#4400ff","#00ffff","#00ff00","#ffff00","#ff0000"],"interpolate":"rgb"},"legend":null}
}
}
]
}
